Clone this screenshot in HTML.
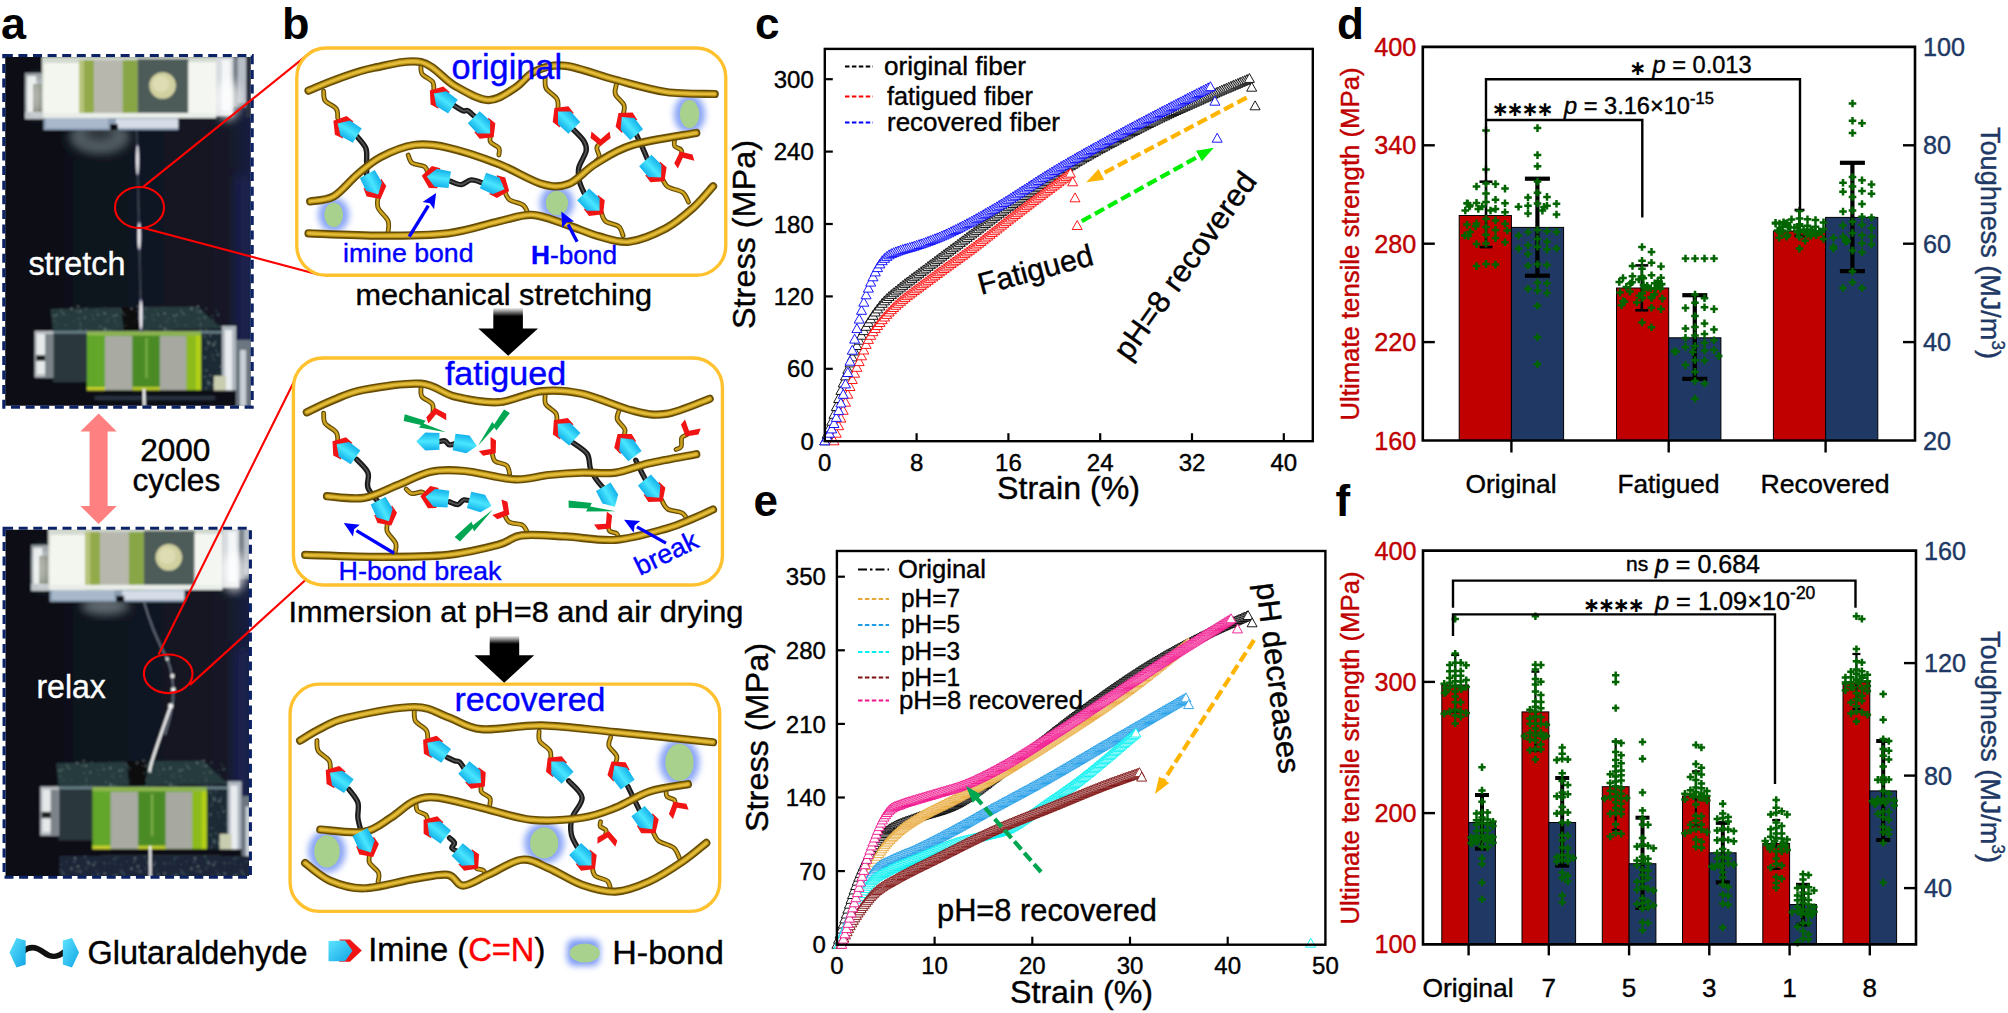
<!DOCTYPE html>
<html lang="en"><head><meta charset="utf-8"><title>Figure</title>
<style>html,body{margin:0;padding:0;background:#fff}svg{display:block}text{font-family:"Liberation Sans",sans-serif}</style>
</head><body>
<svg width="2008" height="1013" viewBox="0 0 2008 1013">
<defs>
<filter id="blur1" x="-5%" y="-5%" width="110%" height="110%"><feGaussianBlur stdDeviation="0.9"/></filter>
<filter id="blur4" x="-30%" y="-30%" width="160%" height="160%"><feGaussianBlur stdDeviation="5"/></filter>
<filter id="blur8" x="-50%" y="-50%" width="200%" height="200%"><feGaussianBlur stdDeviation="14"/></filter>
<filter id="blurb" x="-50%" y="-50%" width="200%" height="200%"><feGaussianBlur stdDeviation="9"/></filter>
<linearGradient id="haze" x1="0" y1="0" x2="1" y2="0"><stop offset="0" stop-color="#0b0f16" stop-opacity="0"/><stop offset="0.45" stop-color="#131922" stop-opacity="0.7"/><stop offset="0.9" stop-color="#151b28" stop-opacity="0.85"/><stop offset="1" stop-color="#1a2248" stop-opacity="0.9"/></linearGradient>
<linearGradient id="fade" x1="0" y1="0" x2="0" y2="1"><stop offset="0" stop-color="#000" stop-opacity="0"/><stop offset="0.4" stop-color="#000" stop-opacity="1"/></linearGradient>
<linearGradient id="cyg" x1="0" y1="0" x2="0" y2="1"><stop offset="0" stop-color="#12b0ea"/><stop offset="0.5" stop-color="#4ae6ff"/><stop offset="1" stop-color="#12b0ea"/></linearGradient>
<filter id="blurl" x="-40%" y="-40%" width="180%" height="180%"><feGaussianBlur stdDeviation="3.2"/></filter>
<linearGradient id="cyg2" x1="0" y1="0" x2="1" y2="1"><stop offset="0" stop-color="#5fe4ff"/><stop offset="1" stop-color="#10a4e4"/></linearGradient>
<pattern id="speck" width="60" height="40" patternUnits="userSpaceOnUse"><circle cx="14.3" cy="21.8" r="0.7" fill="#e8f0ec"/><circle cx="28.4" cy="23.2" r="1.1" fill="#9fc0b8"/><circle cx="54.5" cy="18.8" r="1.1" fill="#7fa098"/><circle cx="11.5" cy="28.7" r="1.1" fill="#e8f0ec"/><circle cx="28.6" cy="25.6" r="0.6" fill="#7fa098"/><circle cx="38.1" cy="34.7" r="1.1" fill="#8fb0a8"/><circle cx="44.5" cy="26.9" r="0.5" fill="#7fa098"/><circle cx="45.5" cy="23.6" r="0.7" fill="#9fc0b8"/><circle cx="49.4" cy="10.8" r="1.1" fill="#5f8078"/><circle cx="55.2" cy="15.5" r="0.9" fill="#8fb0a8"/><circle cx="43.7" cy="23.1" r="0.6" fill="#cfe0d8"/><circle cx="5.8" cy="5.4" r="0.6" fill="#cfe0d8"/><circle cx="57.9" cy="17.4" r="0.7" fill="#8fb0a8"/><circle cx="30.4" cy="15.4" r="0.7" fill="#e8f0ec"/><circle cx="35.1" cy="23.4" r="0.7" fill="#5f8078"/><circle cx="54.9" cy="1.1" r="0.7" fill="#e8f0ec"/><circle cx="40.3" cy="6.5" r="0.7" fill="#e8f0ec"/><circle cx="54.3" cy="22.8" r="0.6" fill="#5f8078"/><circle cx="49.9" cy="22.9" r="0.7" fill="#9fc0b8"/><circle cx="3.8" cy="34.2" r="0.9" fill="#9fc0b8"/><circle cx="20.6" cy="2.7" r="0.6" fill="#9fc0b8"/><circle cx="17.6" cy="30.8" r="0.5" fill="#9fc0b8"/><circle cx="36.3" cy="30.5" r="0.9" fill="#5f8078"/><circle cx="35.2" cy="22.0" r="0.7" fill="#e8f0ec"/><circle cx="14.2" cy="1.4" r="0.5" fill="#9fc0b8"/><circle cx="6.5" cy="21.4" r="0.6" fill="#8fb0a8"/><circle cx="17.5" cy="10.5" r="0.5" fill="#cfe0d8"/><circle cx="18.8" cy="38.3" r="0.9" fill="#8fb0a8"/><circle cx="27.6" cy="20.8" r="1.1" fill="#5f8078"/><circle cx="33.6" cy="24.8" r="1.1" fill="#cfe0d8"/><circle cx="25.9" cy="28.8" r="0.6" fill="#cfe0d8"/><circle cx="26.2" cy="10.3" r="0.7" fill="#e8f0ec"/><circle cx="20.3" cy="31.5" r="1.1" fill="#cfe0d8"/><circle cx="1.2" cy="24.6" r="0.6" fill="#9fc0b8"/><circle cx="38.0" cy="13.3" r="0.7" fill="#5f8078"/><circle cx="55.0" cy="24.4" r="0.7" fill="#5f8078"/><circle cx="29.4" cy="23.6" r="0.5" fill="#cfe0d8"/><circle cx="15.1" cy="18.3" r="1.1" fill="#e8f0ec"/><circle cx="19.2" cy="14.6" r="0.7" fill="#cfe0d8"/><circle cx="50.6" cy="10.6" r="0.9" fill="#9fc0b8"/><circle cx="46.3" cy="1.1" r="1.1" fill="#5f8078"/><circle cx="44.1" cy="12.4" r="0.6" fill="#5f8078"/><circle cx="48.2" cy="9.5" r="0.6" fill="#5f8078"/><circle cx="26.1" cy="27.9" r="0.5" fill="#e8f0ec"/><circle cx="19.3" cy="13.4" r="0.6" fill="#8fb0a8"/><circle cx="48.6" cy="38.4" r="0.5" fill="#cfe0d8"/><circle cx="44.5" cy="8.7" r="1.1" fill="#8fb0a8"/><circle cx="16.2" cy="31.5" r="0.5" fill="#e8f0ec"/><circle cx="57.5" cy="12.6" r="1.1" fill="#7fa098"/><circle cx="51.8" cy="13.6" r="0.5" fill="#e8f0ec"/><circle cx="20.7" cy="5.2" r="0.7" fill="#e8f0ec"/><circle cx="47.6" cy="10.8" r="0.7" fill="#5f8078"/><circle cx="25.0" cy="16.8" r="0.9" fill="#9fc0b8"/><circle cx="55.2" cy="6.2" r="0.5" fill="#8fb0a8"/><circle cx="56.6" cy="35.2" r="1.1" fill="#8fb0a8"/><circle cx="33.5" cy="39.4" r="0.6" fill="#9fc0b8"/><circle cx="44.7" cy="33.5" r="1.1" fill="#cfe0d8"/><circle cx="32.6" cy="35.6" r="0.5" fill="#e8f0ec"/><circle cx="58.3" cy="4.8" r="0.6" fill="#9fc0b8"/><circle cx="2.1" cy="32.1" r="1.1" fill="#7fa098"/><circle cx="53.8" cy="36.0" r="1.1" fill="#9fc0b8"/><circle cx="0.8" cy="29.8" r="0.6" fill="#e8f0ec"/><circle cx="18.0" cy="26.5" r="1.1" fill="#e8f0ec"/><circle cx="24.8" cy="37.6" r="1.1" fill="#9fc0b8"/><circle cx="20.5" cy="10.1" r="1.1" fill="#8fb0a8"/><circle cx="48.7" cy="2.5" r="0.6" fill="#7fa098"/><circle cx="7.3" cy="35.5" r="0.5" fill="#7fa098"/><circle cx="14.4" cy="11.0" r="0.6" fill="#9fc0b8"/><circle cx="29.3" cy="22.8" r="0.9" fill="#9fc0b8"/><circle cx="45.4" cy="9.9" r="1.1" fill="#e8f0ec"/></pattern>
<g id="cy"><polygon points="-38,-25 4,-27 31,0 4,27 -38,25" fill="url(#cyg)"/></g>
<g id="rv"><polygon points="-6,-30 20,-33 46,0 20,33 -6,30 10,0" fill="#f01414"/></g>
<g id="ry"><polygon points="-16,-27 3,-30 27,0 3,30 -16,27 7,0" fill="#f01414"/></g>
<g id="im"><use href="#rv"/><use href="#cy"/></g>

<g id="tclamp">
<rect x="216.0" y="57.0" width="17.0" height="59.0" fill="#d9dde0" />
<rect x="222.0" y="60.0" width="8.0" height="50.0" fill="#f4f6f8" />
<rect x="233.0" y="57.0" width="18.0" height="50.0" fill="#7c848c" />
<rect x="238.0" y="57.0" width="8.0" height="46.0" fill="#b8bec6" />
<rect x="246.0" y="57.0" width="6.0" height="60.0" fill="#2a3040" />
<rect x="25.0" y="73.0" width="19.0" height="46.0" fill="#8d969a" />
<rect x="27.0" y="76.0" width="9.0" height="40.0" fill="#e4e8e8" />
<rect x="33.0" y="84.0" width="9.0" height="28.0" fill="#59604e" />
<rect x="25.0" y="112.0" width="19.0" height="7.0" fill="#b9c0c4" />
<rect x="43.5" y="116.0" width="135.0" height="14.0" fill="#8c9eb4" />
<rect x="46.0" y="118.0" width="62.0" height="10.0" fill="#a9b9cb" />
<rect x="116.0" y="119.0" width="62.0" height="9.0" fill="#d6dde8" />
<rect x="110.0" y="124.0" width="8.0" height="6.0" fill="#0c1018" />
<rect x="42.0" y="57.0" width="174.0" height="61.0" fill="#d3dad0" />
<rect x="44.0" y="63.0" width="35.0" height="55.0" fill="#f3f6ee" />
<rect x="79.0" y="60.0" width="15.2" height="58.0" fill="#93aa4c" />
<rect x="79.0" y="60.0" width="5.0" height="58.0" fill="#b7c47a" />
<rect x="94.2" y="60.0" width="28.4" height="58.0" fill="#b7b7ad" />
<rect x="122.6" y="60.0" width="15.1" height="58.0" fill="#88a644" />
<rect x="137.7" y="59.0" width="50.7" height="57.0" fill="#4d5b59" />
<rect x="188.4" y="62.0" width="27.6" height="55.0" fill="#f4f6f1" />
<circle cx="162.6" cy="85.5" r="13.3" fill="#d0d0a0"/><circle cx="161" cy="84" r="8.5" fill="#dddcb2"/>
<rect x="44.0" y="113.0" width="172.0" height="5.0" fill="#e9eee8" />
</g>
<g id="lclamp">
<polygon points="50.6,309 121,307.5 124,330 53.3,333" fill="#263a3c"/>
<polygon points="142,307 197.3,306.4 222,328.6 140,330" fill="#263a3c"/>
<polygon points="121,307.5 142,307 140,331 124,331" fill="#070a0e"/>
<rect x="50" y="306" width="172" height="27" fill="url(#speck)" opacity="0.4"/>
<rect x="53.0" y="332.0" width="34.0" height="52.0" fill="#2a383c" />
<rect x="53.0" y="382.0" width="40.0" height="9.0" fill="#0a0e12" />
<rect x="201.0" y="330.0" width="21.0" height="60.0" fill="#1b2934" />
<rect x="201" y="330" width="21" height="60" fill="url(#speck)" opacity="0.5"/>
<rect x="53.0" y="331.0" width="170.0" height="2.5" fill="#6a8088" />
<rect x="34.7" y="331.0" width="18.6" height="46.5" fill="#b9bec2" />
<rect x="37.0" y="334.0" width="10.0" height="40.0" fill="#e6e9ea" />
<rect x="36.0" y="355.0" width="11.0" height="6.0" fill="#1e2022" />
<rect x="45.0" y="334.0" width="8.0" height="44.0" fill="#7c848a" />
<rect x="222.0" y="326.0" width="14.0" height="70.0" fill="#aeb6be" />
<rect x="225.0" y="330.0" width="7.0" height="62.0" fill="#e8ecef" />
<rect x="236.0" y="340.0" width="15.0" height="66.0" fill="#6c7680" />
<rect x="240.0" y="350.0" width="6.0" height="56.0" fill="#c8ced4" />
<rect x="214.0" y="376.0" width="12.0" height="16.0" fill="#c9cdb0" />
<rect x="87.0" y="332.0" width="114.0" height="58.5" fill="#5c9a2a" />
<rect x="87.0" y="332.0" width="18.0" height="58.5" fill="#62a62c" />
<rect x="105.0" y="336.0" width="27.4" height="54.0" fill="#a9aba3" />
<rect x="132.4" y="334.0" width="27.6" height="56.0" fill="#4c8b28" />
<rect x="160.0" y="336.0" width="26.6" height="54.0" fill="#a7a9a1" />
<rect x="186.6" y="333.0" width="14.4" height="57.0" fill="#8dbb1e" />
<rect x="196.0" y="335.0" width="5.0" height="55.0" fill="#b2d012" />
<rect x="87.0" y="331.5" width="114.0" height="4.0" fill="#8fb64e" />
<rect x="87.0" y="387.0" width="18.0" height="4.0" fill="#c6d02a" />
<rect x="132.4" y="387.0" width="27.6" height="3.5" fill="#b9c82c" />
<rect x="145.5" y="338.0" width="2.0" height="40.0" fill="#7fb24a" />
<rect x="53.0" y="390.5" width="183.0" height="16.0" fill="#0b1016" />
<rect x="95.0" y="396.0" width="120.0" height="4.0" fill="#27323c" />
</g>
</defs>
<rect width="2008" height="1013" fill="#fff"/>

<clipPath id="cp1"><rect x="5.2" y="56.9" width="245.6" height="348.8"/></clipPath>
<g clip-path="url(#cp1)"><g filter="url(#blur1)">
<rect x="1.8" y="53.5" width="252.4" height="355.6" fill="#0b0f18" />
<rect x="3.8" y="55.5" width="248.4" height="351.6" fill="url(#haze)"/>
<rect x="235.2" y="175.5" width="17" height="201.6" fill="#1a2350" opacity="0.9" filter="url(#blur4)"/>
<ellipse cx="99.5" cy="137" rx="30" ry="17" fill="#5c676d" opacity="0.9" filter="url(#blur4)"/>
<ellipse cx="99.5" cy="133" rx="15" ry="8" fill="#2a3238" opacity="0.9" filter="url(#blur4)"/>
<use href="#tclamp"/><use href="#lclamp"/>
<ellipse cx="228" cy="100" rx="12" ry="20" fill="#fff" opacity="0.75" filter="url(#blur4)"/>
<ellipse cx="36" cy="96" rx="7" ry="20" fill="#fff" opacity="0.6" filter="url(#blur4)"/>
<line x1="136.8" y1="130" x2="141.3" y2="332" stroke="#4a5262" stroke-width="1.2"/>
<ellipse cx="137.5" cy="160" rx="2.6" ry="16.5" fill="#8a7cff" opacity="0.22"/>
<ellipse cx="137.5" cy="160" rx="1.3" ry="14.5" fill="#ffffff"/>
<ellipse cx="139.2" cy="236" rx="2.8" ry="15.5" fill="#8a7cff" opacity="0.22"/>
<ellipse cx="139.2" cy="236" rx="1.4" ry="13.5" fill="#ffffff"/>
<ellipse cx="140.9" cy="315" rx="2.8" ry="17.0" fill="#8a7cff" opacity="0.22"/>
<ellipse cx="140.9" cy="315" rx="1.4" ry="15.0" fill="#ffffff"/>
<line x1="144" y1="389" x2="144.4" y2="406" stroke="#fff" stroke-width="2.4"/>
</g></g>
<rect x="3.8" y="55.5" width="248.4" height="351.6" fill="none" stroke="#0c2266" stroke-width="3.1" stroke-dasharray="9 5.6"/>
<clipPath id="cp2"><rect x="5.5" y="529.7" width="243.5" height="346.2"/></clipPath>
<g clip-path="url(#cp2)"><g filter="url(#blur1)">
<rect x="2.1" y="526.3" width="250.3" height="353.0" fill="#0b0f18" />
<rect x="4.1" y="528.3" width="246.3" height="349" fill="url(#haze)"/>
<rect x="233.4" y="648.3" width="17" height="199.0" fill="#1a2350" opacity="0.9" filter="url(#blur4)"/>
<ellipse cx="105" cy="606" rx="24" ry="9" fill="#6a757b" opacity="0.9" filter="url(#blur4)"/>
<use href="#tclamp" transform="translate(6.2,471.8)"/>
<ellipse cx="234" cy="572" rx="12" ry="20" fill="#fff" opacity="0.75" filter="url(#blur4)"/>
<ellipse cx="42" cy="568" rx="7" ry="20" fill="#fff" opacity="0.6" filter="url(#blur4)"/>
<use href="#lclamp" transform="translate(5.6,455.6) translate(0,332) scale(1,1.055) translate(0,-332)"/>
<rect x="59.5" y="856.0" width="192.0" height="24.0" fill="#1b2537" />
<rect x="59.5" y="856" width="192" height="24" fill="url(#speck)" opacity="0.4"/>
<path d="M144 601.7C149 620 158 642 167 658.6C172 670 174 684 173 700C172 712 169 722 165 735" fill="none" stroke="#7a8496" stroke-width="1.3"/>
<path d="M170.6 706.5C166 720 158 742 153 758C151 764 150 768 149.5 772" fill="none" stroke="#fff" stroke-width="2.4"/>
<circle cx="167.3" cy="659" r="1.4" fill="#fff"/>
<circle cx="172.4" cy="676" r="2.0" fill="#fff"/>
<circle cx="173.3" cy="689.7" r="2.2" fill="#fff"/>
<circle cx="170.7" cy="706" r="2.4" fill="#fff"/>
<line x1="150.2" y1="846" x2="150.4" y2="877" stroke="#fff" stroke-width="2.2"/>
</g></g>
<rect x="4.1" y="528.3" width="246.3" height="349" fill="none" stroke="#0c2266" stroke-width="3.1" stroke-dasharray="9 5.6"/>
<text x="28.4" y="274.6" font-size="33.5" fill="#fff" textLength="97.0" lengthAdjust="spacingAndGlyphs" stroke="#fff" stroke-width="0.4">stretch</text>
<text x="36.4" y="698.0" font-size="33.5" fill="#fff" textLength="69.5" lengthAdjust="spacingAndGlyphs" stroke="#fff" stroke-width="0.4">relax</text>
<polygon points="98.6,413.6 116.8,431.5 107.6,431.5 107.6,506 116.8,506 98.6,524 80.4,506 89.6,506 89.6,431.5 80.4,431.5" fill="#FF8080"/>
<text x="175.3" y="460.7" font-size="31.6" text-anchor="middle" stroke="#000" stroke-width="0.4">2000</text>
<text x="176.3" y="491.0" font-size="31.6" text-anchor="middle" stroke="#000" stroke-width="0.4">cycles</text>
<ellipse cx="139.5" cy="207.5" rx="24.5" ry="20.5" fill="none" stroke="#f00" stroke-width="2.1"/>
<path d="M143.5 186.6L313 50.4M143.5 227.9L318.2 274.4" stroke="#f00" stroke-width="2.1" fill="none"/>
<ellipse cx="168.2" cy="673.8" rx="24.3" ry="19.3" fill="none" stroke="#f00" stroke-width="2.1"/>
<path d="M158.6 654.5L297 375.5M190 684.9L305.5 580" stroke="#f00" stroke-width="2.1" fill="none"/>
<text x="1.0" y="39.0" font-size="45" font-weight="bold">a</text>
<g transform="translate(280,0) scale(0.33568)">
<rect x="50" y="143" width="1278" height="677" rx="88" fill="#fff" stroke="#FFC12E" stroke-width="10"/>
<ellipse cx="160" cy="640" rx="46" ry="52" fill="#7f9cf5" opacity="0.9" filter="url(#blurb)"/>
<ellipse cx="160" cy="640" rx="28" ry="36" fill="#a9d18e"/>
<ellipse cx="825" cy="605" rx="51" ry="52" fill="#7f9cf5" opacity="0.9" filter="url(#blurb)"/>
<ellipse cx="825" cy="605" rx="33" ry="36" fill="#a9d18e"/>
<ellipse cx="1220" cy="340" rx="47" ry="58" fill="#7f9cf5" opacity="0.9" filter="url(#blurb)"/>
<ellipse cx="1220" cy="340" rx="29" ry="42" fill="#a9d18e"/>
<path d="M130.0 272.0C130.8 276.7 128.4 291.5 134.6 300.2C140.9 308.8 161.1 315.2 167.4 323.8C173.6 332.5 171.2 347.3 172.0 352.0" fill="none" stroke="#644c06" stroke-width="14.5" stroke-linecap="round"/>
<path d="M130.0 272.0C130.8 276.7 128.4 291.5 134.6 300.2C140.9 308.8 161.1 315.2 167.4 323.8C173.6 332.5 171.2 347.3 172.0 352.0" fill="none" stroke="#cfa420" stroke-width="7.2" stroke-linecap="round"/>
<path d="M292.0 585.0C292.1 590.8 287.4 607.5 292.3 619.5C297.3 631.6 316.7 645.4 321.7 657.5C326.6 669.5 321.9 686.2 322.0 692.0" fill="none" stroke="#644c06" stroke-width="14.5" stroke-linecap="round"/>
<path d="M292.0 585.0C292.1 590.8 287.4 607.5 292.3 619.5C297.3 631.6 316.7 645.4 321.7 657.5C326.6 669.5 321.9 686.2 322.0 692.0" fill="none" stroke="#cfa420" stroke-width="7.2" stroke-linecap="round"/>
<path d="M420.0 192.0C420.5 196.6 417.5 211.2 423.3 219.9C429.1 228.6 448.9 235.4 454.7 244.1C460.5 252.8 457.5 267.4 458.0 272.0" fill="none" stroke="#644c06" stroke-width="14.5" stroke-linecap="round"/>
<path d="M420.0 192.0C420.5 196.6 417.5 211.2 423.3 219.9C429.1 228.6 448.9 235.4 454.7 244.1C460.5 252.8 457.5 267.4 458.0 272.0" fill="none" stroke="#cfa420" stroke-width="7.2" stroke-linecap="round"/>
<path d="M627.0 402.0C627.0 405.5 623.0 416.6 627.1 423.1C631.3 429.6 647.7 434.4 651.9 440.9C656.0 447.4 652.0 458.5 652.0 462.0" fill="none" stroke="#644c06" stroke-width="14.5" stroke-linecap="round"/>
<path d="M627.0 402.0C627.0 405.5 623.0 416.6 627.1 423.1C631.3 429.6 647.7 434.4 651.9 440.9C656.0 447.4 652.0 458.5 652.0 462.0" fill="none" stroke="#cfa420" stroke-width="7.2" stroke-linecap="round"/>
<path d="M382.0 462.0C384.0 466.0 385.7 480.2 393.7 485.9C401.8 491.6 422.2 490.4 430.3 496.1C438.3 501.8 440.0 516.0 442.0 520.0" fill="none" stroke="#644c06" stroke-width="14.5" stroke-linecap="round"/>
<path d="M382.0 462.0C384.0 466.0 385.7 480.2 393.7 485.9C401.8 491.6 422.2 490.4 430.3 496.1C438.3 501.8 440.0 516.0 442.0 520.0" fill="none" stroke="#cfa420" stroke-width="7.2" stroke-linecap="round"/>
<path d="M668.0 566.0C670.5 570.7 673.7 586.9 683.1 594.5C692.6 602.1 715.4 603.9 724.9 611.5C734.3 619.1 737.5 635.3 740.0 640.0" fill="none" stroke="#644c06" stroke-width="14.5" stroke-linecap="round"/>
<path d="M668.0 566.0C670.5 570.7 673.7 586.9 683.1 594.5C692.6 602.1 715.4 603.9 724.9 611.5C734.3 619.1 737.5 635.3 740.0 640.0" fill="none" stroke="#cfa420" stroke-width="7.2" stroke-linecap="round"/>
<path d="M790.0 232.0C790.5 237.3 787.2 253.2 793.1 263.6C798.9 274.0 819.1 284.0 824.9 294.4C830.8 304.8 827.5 320.7 828.0 326.0" fill="none" stroke="#644c06" stroke-width="14.5" stroke-linecap="round"/>
<path d="M790.0 232.0C790.5 237.3 787.2 253.2 793.1 263.6C798.9 274.0 819.1 284.0 824.9 294.4C830.8 304.8 827.5 320.7 828.0 326.0" fill="none" stroke="#cfa420" stroke-width="7.2" stroke-linecap="round"/>
<path d="M957.0 632.0C959.2 636.5 961.2 652.0 969.9 659.1C978.6 666.3 1000.4 667.7 1009.1 674.9C1017.8 682.0 1019.8 697.5 1022.0 702.0" fill="none" stroke="#644c06" stroke-width="14.5" stroke-linecap="round"/>
<path d="M957.0 632.0C959.2 636.5 961.2 652.0 969.9 659.1C978.6 666.3 1000.4 667.7 1009.1 674.9C1017.8 682.0 1019.8 697.5 1022.0 702.0" fill="none" stroke="#cfa420" stroke-width="7.2" stroke-linecap="round"/>
<path d="M1002.0 252.0C1001.5 256.8 995.4 270.8 999.2 281.0C1003.0 291.1 1021.0 302.9 1024.8 313.0C1028.6 323.2 1022.5 337.2 1022.0 342.0" fill="none" stroke="#644c06" stroke-width="14.5" stroke-linecap="round"/>
<path d="M1002.0 252.0C1001.5 256.8 995.4 270.8 999.2 281.0C1003.0 291.1 1021.0 302.9 1024.8 313.0C1028.6 323.2 1022.5 337.2 1022.0 342.0" fill="none" stroke="#cfa420" stroke-width="7.2" stroke-linecap="round"/>
<path d="M1137.0 527.0C1140.0 531.8 1144.5 548.4 1154.8 556.1C1165.2 563.7 1188.8 565.3 1199.2 572.9C1209.5 580.6 1214.0 597.2 1217.0 602.0" fill="none" stroke="#644c06" stroke-width="14.5" stroke-linecap="round"/>
<path d="M1137.0 527.0C1140.0 531.8 1144.5 548.4 1154.8 556.1C1165.2 563.7 1188.8 565.3 1199.2 572.9C1209.5 580.6 1214.0 597.2 1217.0 602.0" fill="none" stroke="#cfa420" stroke-width="7.2" stroke-linecap="round"/>
<path d="M940.0 482.0C941.9 479.4 950.6 473.6 951.3 466.7C951.9 459.7 943.1 447.3 943.7 440.3C944.4 433.4 953.1 427.6 955.0 425.0" fill="none" stroke="#644c06" stroke-width="14.5" stroke-linecap="round"/>
<path d="M940.0 482.0C941.9 479.4 950.6 473.6 951.3 466.7C951.9 459.7 943.1 447.3 943.7 440.3C944.4 433.4 953.1 427.6 955.0 425.0" fill="none" stroke="#cfa420" stroke-width="7.2" stroke-linecap="round"/>
<path d="M1175.0 420.0C1175.2 422.5 1172.6 430.8 1175.9 435.3C1179.3 439.7 1191.7 442.3 1195.1 446.7C1198.4 451.2 1195.8 459.5 1196.0 462.0" fill="none" stroke="#644c06" stroke-width="14.5" stroke-linecap="round"/>
<path d="M1175.0 420.0C1175.2 422.5 1172.6 430.8 1175.9 435.3C1179.3 439.7 1191.7 442.3 1195.1 446.7C1198.4 451.2 1195.8 459.5 1196.0 462.0" fill="none" stroke="#cfa420" stroke-width="7.2" stroke-linecap="round"/>
<path d="M222.0 398.0C227.5 405.0 249.0 426.3 255.0 440.0C261.0 453.7 257.5 466.3 258.0 480.0C258.5 493.7 258.0 515.0 258.0 522.0" fill="none" stroke="#1a1a1a" stroke-width="16" stroke-linecap="round"/>
<path d="M222.0 398.0C227.5 405.0 249.0 426.3 255.0 440.0C261.0 453.7 257.5 466.3 258.0 480.0C258.5 493.7 258.0 515.0 258.0 522.0" fill="none" stroke="#555" stroke-width="4.8" stroke-linecap="round"/>
<path d="M518.0 314.0C522.5 316.7 538.0 327.3 545.0 330.0C552.0 332.7 553.3 326.3 560.0 330.0C566.7 333.7 580.8 348.3 585.0 352.0" fill="none" stroke="#1a1a1a" stroke-width="16" stroke-linecap="round"/>
<path d="M518.0 314.0C522.5 316.7 538.0 327.3 545.0 330.0C552.0 332.7 553.3 326.3 560.0 330.0C566.7 333.7 580.8 348.3 585.0 352.0" fill="none" stroke="#555" stroke-width="4.8" stroke-linecap="round"/>
<path d="M508.0 540.0C513.3 541.7 529.7 550.7 540.0 550.0C550.3 549.3 559.0 536.7 570.0 536.0C581.0 535.3 600.0 544.3 606.0 546.0" fill="none" stroke="#1a1a1a" stroke-width="16" stroke-linecap="round"/>
<path d="M508.0 540.0C513.3 541.7 529.7 550.7 540.0 550.0C550.3 549.3 559.0 536.7 570.0 536.0C581.0 535.3 600.0 544.3 606.0 546.0" fill="none" stroke="#555" stroke-width="4.8" stroke-linecap="round"/>
<path d="M872.0 384.0C877.5 390.0 898.3 409.0 905.0 420.0C911.7 431.0 914.5 436.7 912.0 450.0C909.5 463.3 893.3 485.0 890.0 500.0C886.7 515.0 889.3 527.5 892.0 540.0C894.7 552.5 903.7 569.2 906.0 575.0" fill="none" stroke="#1a1a1a" stroke-width="16" stroke-linecap="round"/>
<path d="M872.0 384.0C877.5 390.0 898.3 409.0 905.0 420.0C911.7 431.0 914.5 436.7 912.0 450.0C909.5 463.3 893.3 485.0 890.0 500.0C886.7 515.0 889.3 527.5 892.0 540.0C894.7 552.5 903.7 569.2 906.0 575.0" fill="none" stroke="#555" stroke-width="4.8" stroke-linecap="round"/>
<path d="M1062.0 402.0C1065.0 408.3 1074.3 427.3 1080.0 440.0C1085.7 452.7 1093.3 471.7 1096.0 478.0" fill="none" stroke="#1a1a1a" stroke-width="16" stroke-linecap="round"/>
<path d="M1062.0 402.0C1065.0 408.3 1074.3 427.3 1080.0 440.0C1085.7 452.7 1093.3 471.7 1096.0 478.0" fill="none" stroke="#555" stroke-width="4.8" stroke-linecap="round"/>
<path d="M85.0 270.0C100.8 263.7 147.5 243.3 180.0 232.0C212.5 220.7 240.0 209.8 280.0 202.0C320.0 194.2 380.0 176.2 420.0 185.0C460.0 193.8 486.7 236.2 520.0 255.0C553.3 273.8 590.0 296.8 620.0 298.0C650.0 299.2 676.7 276.3 700.0 262.0C723.3 247.7 735.0 223.0 760.0 212.0C785.0 201.0 810.0 191.7 850.0 196.0C890.0 200.3 950.0 225.0 1000.0 238.0C1050.0 251.0 1100.8 267.0 1150.0 274.0C1199.2 281.0 1270.8 279.0 1295.0 280.0" fill="none" stroke="#644c06" stroke-width="24.5" stroke-linecap="round"/>
<path d="M85.0 270.0C100.8 263.7 147.5 243.3 180.0 232.0C212.5 220.7 240.0 209.8 280.0 202.0C320.0 194.2 380.0 176.2 420.0 185.0C460.0 193.8 486.7 236.2 520.0 255.0C553.3 273.8 590.0 296.8 620.0 298.0C650.0 299.2 676.7 276.3 700.0 262.0C723.3 247.7 735.0 223.0 760.0 212.0C785.0 201.0 810.0 191.7 850.0 196.0C890.0 200.3 950.0 225.0 1000.0 238.0C1050.0 251.0 1100.8 267.0 1150.0 274.0C1199.2 281.0 1270.8 279.0 1295.0 280.0" fill="none" stroke="#c09616" stroke-width="14.7" stroke-linecap="round"/>
<path d="M85.0 270.0C100.8 263.7 147.5 243.3 180.0 232.0C212.5 220.7 240.0 209.8 280.0 202.0C320.0 194.2 380.0 176.2 420.0 185.0C460.0 193.8 486.7 236.2 520.0 255.0C553.3 273.8 590.0 296.8 620.0 298.0C650.0 299.2 676.7 276.3 700.0 262.0C723.3 247.7 735.0 223.0 760.0 212.0C785.0 201.0 810.0 191.7 850.0 196.0C890.0 200.3 950.0 225.0 1000.0 238.0C1050.0 251.0 1100.8 267.0 1150.0 274.0C1199.2 281.0 1270.8 279.0 1295.0 280.0" fill="none" stroke="#e2bc3a" stroke-width="7.3" stroke-linecap="round"/>
<path d="M90.0 600.0C101.7 597.5 136.7 598.3 160.0 585.0C183.3 571.7 206.7 539.5 230.0 520.0C253.3 500.5 271.7 482.7 300.0 468.0C328.3 453.3 366.7 436.7 400.0 432.0C433.3 427.3 458.3 430.7 500.0 440.0C541.7 449.3 603.3 470.0 650.0 488.0C696.7 506.0 745.0 538.0 780.0 548.0C815.0 558.0 833.3 558.0 860.0 548.0C886.7 538.0 908.3 507.3 940.0 488.0C971.7 468.7 1000.0 447.3 1050.0 432.0C1100.0 416.7 1208.3 402.0 1240.0 396.0" fill="none" stroke="#644c06" stroke-width="24.5" stroke-linecap="round"/>
<path d="M90.0 600.0C101.7 597.5 136.7 598.3 160.0 585.0C183.3 571.7 206.7 539.5 230.0 520.0C253.3 500.5 271.7 482.7 300.0 468.0C328.3 453.3 366.7 436.7 400.0 432.0C433.3 427.3 458.3 430.7 500.0 440.0C541.7 449.3 603.3 470.0 650.0 488.0C696.7 506.0 745.0 538.0 780.0 548.0C815.0 558.0 833.3 558.0 860.0 548.0C886.7 538.0 908.3 507.3 940.0 488.0C971.7 468.7 1000.0 447.3 1050.0 432.0C1100.0 416.7 1208.3 402.0 1240.0 396.0" fill="none" stroke="#c09616" stroke-width="14.7" stroke-linecap="round"/>
<path d="M90.0 600.0C101.7 597.5 136.7 598.3 160.0 585.0C183.3 571.7 206.7 539.5 230.0 520.0C253.3 500.5 271.7 482.7 300.0 468.0C328.3 453.3 366.7 436.7 400.0 432.0C433.3 427.3 458.3 430.7 500.0 440.0C541.7 449.3 603.3 470.0 650.0 488.0C696.7 506.0 745.0 538.0 780.0 548.0C815.0 558.0 833.3 558.0 860.0 548.0C886.7 538.0 908.3 507.3 940.0 488.0C971.7 468.7 1000.0 447.3 1050.0 432.0C1100.0 416.7 1208.3 402.0 1240.0 396.0" fill="none" stroke="#e2bc3a" stroke-width="7.3" stroke-linecap="round"/>
<path d="M85.0 695.0C120.8 696.2 230.8 702.0 300.0 702.0C369.2 702.0 441.7 702.0 500.0 695.0C558.3 688.0 608.3 669.2 650.0 660.0C691.7 650.8 716.7 638.7 750.0 640.0C783.3 641.3 816.7 657.3 850.0 668.0C883.3 678.7 918.3 695.3 950.0 704.0C981.7 712.7 1006.7 724.0 1040.0 720.0C1073.3 716.0 1118.3 696.7 1150.0 680.0C1181.7 663.3 1206.7 640.8 1230.0 620.0C1253.3 599.2 1280.0 565.8 1290.0 555.0" fill="none" stroke="#644c06" stroke-width="24.5" stroke-linecap="round"/>
<path d="M85.0 695.0C120.8 696.2 230.8 702.0 300.0 702.0C369.2 702.0 441.7 702.0 500.0 695.0C558.3 688.0 608.3 669.2 650.0 660.0C691.7 650.8 716.7 638.7 750.0 640.0C783.3 641.3 816.7 657.3 850.0 668.0C883.3 678.7 918.3 695.3 950.0 704.0C981.7 712.7 1006.7 724.0 1040.0 720.0C1073.3 716.0 1118.3 696.7 1150.0 680.0C1181.7 663.3 1206.7 640.8 1230.0 620.0C1253.3 599.2 1280.0 565.8 1290.0 555.0" fill="none" stroke="#c09616" stroke-width="14.7" stroke-linecap="round"/>
<path d="M85.0 695.0C120.8 696.2 230.8 702.0 300.0 702.0C369.2 702.0 441.7 702.0 500.0 695.0C558.3 688.0 608.3 669.2 650.0 660.0C691.7 650.8 716.7 638.7 750.0 640.0C783.3 641.3 816.7 657.3 850.0 668.0C883.3 678.7 918.3 695.3 950.0 704.0C981.7 712.7 1006.7 724.0 1040.0 720.0C1073.3 716.0 1118.3 696.7 1150.0 680.0C1181.7 663.3 1206.7 640.8 1230.0 620.0C1253.3 599.2 1280.0 565.8 1290.0 555.0" fill="none" stroke="#e2bc3a" stroke-width="7.3" stroke-linecap="round"/>
<use href="#im" transform="translate(198,384) rotate(-148)"/>
<use href="#im" transform="translate(278,552) rotate(62)"/>
<use href="#im" transform="translate(484,296) rotate(-145)"/>
<use href="#im" transform="translate(604,376) rotate(45)"/>
<use href="#im" transform="translate(468,530) rotate(188)"/>
<use href="#im" transform="translate(640,552) rotate(22)"/>
<use href="#im" transform="translate(850,354) rotate(-135)"/>
<use href="#im" transform="translate(930,606) rotate(45)"/>
<use href="#im" transform="translate(1038,372) rotate(-130)"/>
<use href="#im" transform="translate(1114,506) rotate(47)"/>
<use href="#ry" transform="translate(955,408) rotate(90)"/>
<use href="#ry" transform="translate(1203,476) rotate(-115)"/>
<line x1="385" y1="705" x2="441.9" y2="612.5" stroke="#00f" stroke-width="10"/>
<polygon points="465,575 459.0,623.0 446.1,605.7 424.9,602.0" fill="#00f"/>
<line x1="885" y1="720" x2="858.4" y2="669.0" stroke="#00f" stroke-width="10"/>
<polygon points="838,630 876.1,659.7 854.7,661.9 840.6,678.3" fill="#00f"/>
</g>
<text x="451.5" y="78.5" font-size="34.2" fill="#00f" textLength="110.5" lengthAdjust="spacingAndGlyphs" stroke="#00f" stroke-width="0.4">original</text>
<text x="343.0" y="262.0" font-size="26.6" fill="#00f" textLength="130.5" lengthAdjust="spacingAndGlyphs" stroke="#00f" stroke-width="0.4">imine bond</text>
<text x="531.0" y="263.5" font-size="26.6" fill="#00f" textLength="86.0" lengthAdjust="spacingAndGlyphs" stroke="#00f" stroke-width="0.4"><tspan font-weight="bold">H</tspan>-bond</text>
<text x="355.5" y="305.3" font-size="29.8" textLength="296.5" lengthAdjust="spacingAndGlyphs" stroke="#000" stroke-width="0.4">mechanical stretching</text>
<g transform="translate(280,330) scale(0.33568)">
<rect x="40" y="83.5" width="1278" height="676" rx="88" fill="#fff" stroke="#FFC12E" stroke-width="10"/>
<path d="M130.0 248.0C130.7 253.0 128.2 268.5 134.5 278.0C140.7 287.5 161.3 295.5 167.5 305.0C173.8 314.5 171.3 330.0 172.0 335.0" fill="none" stroke="#644c06" stroke-width="14.5" stroke-linecap="round"/>
<path d="M130.0 248.0C130.7 253.0 128.2 268.5 134.5 278.0C140.7 287.5 161.3 295.5 167.5 305.0C173.8 314.5 171.3 330.0 172.0 335.0" fill="none" stroke="#cfa420" stroke-width="7.2" stroke-linecap="round"/>
<path d="M322.0 568.0C321.5 573.3 315.4 588.4 319.2 599.8C323.0 611.1 341.0 624.9 344.8 636.2C348.6 647.6 342.5 662.7 342.0 668.0" fill="none" stroke="#644c06" stroke-width="14.5" stroke-linecap="round"/>
<path d="M322.0 568.0C321.5 573.3 315.4 588.4 319.2 599.8C323.0 611.1 341.0 624.9 344.8 636.2C348.6 647.6 342.5 662.7 342.0 668.0" fill="none" stroke="#cfa420" stroke-width="7.2" stroke-linecap="round"/>
<path d="M420.0 172.0C420.5 176.4 417.2 190.2 422.7 198.1C428.3 206.1 447.7 211.9 453.3 219.9C458.8 227.8 455.5 241.6 456.0 246.0" fill="none" stroke="#644c06" stroke-width="14.5" stroke-linecap="round"/>
<path d="M420.0 172.0C420.5 176.4 417.2 190.2 422.7 198.1C428.3 206.1 447.7 211.9 453.3 219.9C458.8 227.8 455.5 241.6 456.0 246.0" fill="none" stroke="#cfa420" stroke-width="7.2" stroke-linecap="round"/>
<path d="M632.0 366.0C633.5 370.1 633.5 384.1 640.7 390.4C647.9 396.7 668.1 397.3 675.3 403.6C682.5 409.9 682.5 423.9 684.0 428.0" fill="none" stroke="#644c06" stroke-width="14.5" stroke-linecap="round"/>
<path d="M632.0 366.0C633.5 370.1 633.5 384.1 640.7 390.4C647.9 396.7 668.1 397.3 675.3 403.6C682.5 409.9 682.5 423.9 684.0 428.0" fill="none" stroke="#cfa420" stroke-width="7.2" stroke-linecap="round"/>
<path d="M376.0 474.0C378.8 476.2 385.1 485.8 392.9 487.2C400.8 488.7 415.2 481.3 423.1 482.8C430.9 484.2 437.2 493.8 440.0 496.0" fill="none" stroke="#644c06" stroke-width="14.5" stroke-linecap="round"/>
<path d="M376.0 474.0C378.8 476.2 385.1 485.8 392.9 487.2C400.8 488.7 415.2 481.3 423.1 482.8C430.9 484.2 437.2 493.8 440.0 496.0" fill="none" stroke="#cfa420" stroke-width="7.2" stroke-linecap="round"/>
<path d="M668.0 548.0C670.5 552.1 674.1 566.7 683.3 572.3C692.4 577.9 713.6 576.1 722.7 581.7C731.9 587.3 735.5 601.9 738.0 606.0" fill="none" stroke="#644c06" stroke-width="14.5" stroke-linecap="round"/>
<path d="M668.0 548.0C670.5 552.1 674.1 566.7 683.3 572.3C692.4 577.9 713.6 576.1 722.7 581.7C731.9 587.3 735.5 601.9 738.0 606.0" fill="none" stroke="#cfa420" stroke-width="7.2" stroke-linecap="round"/>
<path d="M790.0 192.0C790.3 196.9 786.5 211.6 791.8 221.1C797.2 230.6 816.8 239.4 822.2 248.9C827.5 258.4 823.7 273.1 824.0 278.0" fill="none" stroke="#644c06" stroke-width="14.5" stroke-linecap="round"/>
<path d="M790.0 192.0C790.3 196.9 786.5 211.6 791.8 221.1C797.2 230.6 816.8 239.4 822.2 248.9C827.5 258.4 823.7 273.1 824.0 278.0" fill="none" stroke="#cfa420" stroke-width="7.2" stroke-linecap="round"/>
<path d="M978.0 584.0C978.7 586.5 978.0 595.3 982.3 599.1C986.6 602.9 999.4 603.1 1003.7 606.9C1008.0 610.7 1007.3 619.5 1008.0 622.0" fill="none" stroke="#644c06" stroke-width="14.5" stroke-linecap="round"/>
<path d="M978.0 584.0C978.7 586.5 978.0 595.3 982.3 599.1C986.6 602.9 999.4 603.1 1003.7 606.9C1008.0 610.7 1007.3 619.5 1008.0 622.0" fill="none" stroke="#cfa420" stroke-width="7.2" stroke-linecap="round"/>
<path d="M1010.0 240.0C1009.1 244.3 1001.8 256.6 1004.7 265.9C1007.6 275.3 1024.4 286.7 1027.3 296.1C1030.2 305.4 1022.9 317.7 1022.0 322.0" fill="none" stroke="#644c06" stroke-width="14.5" stroke-linecap="round"/>
<path d="M1010.0 240.0C1009.1 244.3 1001.8 256.6 1004.7 265.9C1007.6 275.3 1024.4 286.7 1027.3 296.1C1030.2 305.4 1022.9 317.7 1022.0 322.0" fill="none" stroke="#cfa420" stroke-width="7.2" stroke-linecap="round"/>
<path d="M1137.0 507.0C1140.1 511.4 1145.0 527.1 1155.3 533.5C1165.6 539.9 1188.4 539.1 1198.7 545.5C1209.0 551.9 1213.9 567.6 1217.0 572.0" fill="none" stroke="#644c06" stroke-width="14.5" stroke-linecap="round"/>
<path d="M1137.0 507.0C1140.1 511.4 1145.0 527.1 1155.3 533.5C1165.6 539.9 1188.4 539.1 1198.7 545.5C1209.0 551.9 1213.9 567.6 1217.0 572.0" fill="none" stroke="#cfa420" stroke-width="7.2" stroke-linecap="round"/>
<path d="M1180.0 356.0C1182.5 354.5 1192.5 352.7 1195.3 346.9C1198.1 341.1 1193.9 326.9 1196.7 321.1C1199.5 315.3 1209.5 313.5 1212.0 312.0" fill="none" stroke="#644c06" stroke-width="14.5" stroke-linecap="round"/>
<path d="M1180.0 356.0C1182.5 354.5 1192.5 352.7 1195.3 346.9C1198.1 341.1 1193.9 326.9 1196.7 321.1C1199.5 315.3 1209.5 313.5 1212.0 312.0" fill="none" stroke="#cfa420" stroke-width="7.2" stroke-linecap="round"/>
<path d="M228.0 385.0C233.7 391.7 256.3 410.8 262.0 425.0C267.7 439.2 256.5 455.0 262.0 470.0C267.5 485.0 289.5 507.5 295.0 515.0" fill="none" stroke="#1a1a1a" stroke-width="16" stroke-linecap="round"/>
<path d="M228.0 385.0C233.7 391.7 256.3 410.8 262.0 425.0C267.7 439.2 256.5 455.0 262.0 470.0C267.5 485.0 289.5 507.5 295.0 515.0" fill="none" stroke="#555" stroke-width="4.8" stroke-linecap="round"/>
<path d="M462.0 336.0C466.7 335.0 482.8 329.0 490.0 330.0C497.2 331.0 498.0 341.0 505.0 342.0C512.0 343.0 527.5 337.0 532.0 336.0" fill="none" stroke="#1a1a1a" stroke-width="16" stroke-linecap="round"/>
<path d="M462.0 336.0C466.7 335.0 482.8 329.0 490.0 330.0C497.2 331.0 498.0 341.0 505.0 342.0C512.0 343.0 527.5 337.0 532.0 336.0" fill="none" stroke="#555" stroke-width="4.8" stroke-linecap="round"/>
<path d="M505.0 512.0C509.2 513.3 522.8 521.0 530.0 520.0C537.2 519.0 540.0 507.3 548.0 506.0C556.0 504.7 573.0 511.0 578.0 512.0" fill="none" stroke="#1a1a1a" stroke-width="16" stroke-linecap="round"/>
<path d="M505.0 512.0C509.2 513.3 522.8 521.0 530.0 520.0C537.2 519.0 540.0 507.3 548.0 506.0C556.0 504.7 573.0 511.0 578.0 512.0" fill="none" stroke="#555" stroke-width="4.8" stroke-linecap="round"/>
<path d="M870.0 334.0C877.5 339.8 905.8 355.7 915.0 369.0C924.2 382.3 920.0 400.7 925.0 414.0C930.0 427.3 937.2 438.0 945.0 449.0C952.8 460.0 967.5 474.8 972.0 480.0" fill="none" stroke="#1a1a1a" stroke-width="16" stroke-linecap="round"/>
<path d="M870.0 334.0C877.5 339.8 905.8 355.7 915.0 369.0C924.2 382.3 920.0 400.7 925.0 414.0C930.0 427.3 937.2 438.0 945.0 449.0C952.8 460.0 967.5 474.8 972.0 480.0" fill="none" stroke="#555" stroke-width="4.8" stroke-linecap="round"/>
<path d="M1060.0 388.0C1063.0 394.2 1072.3 413.8 1078.0 425.0C1083.7 436.2 1091.3 450.0 1094.0 455.0" fill="none" stroke="#1a1a1a" stroke-width="16" stroke-linecap="round"/>
<path d="M1060.0 388.0C1063.0 394.2 1072.3 413.8 1078.0 425.0C1083.7 436.2 1091.3 450.0 1094.0 455.0" fill="none" stroke="#555" stroke-width="4.8" stroke-linecap="round"/>
<path d="M80.0 245.0C93.3 238.8 131.7 219.2 160.0 208.0C188.3 196.8 206.7 186.0 250.0 178.0C293.3 170.0 375.0 156.7 420.0 160.0C465.0 163.3 481.7 188.8 520.0 198.0C558.3 207.2 606.7 217.7 650.0 215.0C693.3 212.3 738.3 186.2 780.0 182.0C821.7 177.8 855.0 180.3 900.0 190.0C945.0 199.7 1008.3 230.0 1050.0 240.0C1091.7 250.0 1111.7 255.8 1150.0 250.0C1188.3 244.2 1258.3 212.5 1280.0 205.0" fill="none" stroke="#644c06" stroke-width="24.5" stroke-linecap="round"/>
<path d="M80.0 245.0C93.3 238.8 131.7 219.2 160.0 208.0C188.3 196.8 206.7 186.0 250.0 178.0C293.3 170.0 375.0 156.7 420.0 160.0C465.0 163.3 481.7 188.8 520.0 198.0C558.3 207.2 606.7 217.7 650.0 215.0C693.3 212.3 738.3 186.2 780.0 182.0C821.7 177.8 855.0 180.3 900.0 190.0C945.0 199.7 1008.3 230.0 1050.0 240.0C1091.7 250.0 1111.7 255.8 1150.0 250.0C1188.3 244.2 1258.3 212.5 1280.0 205.0" fill="none" stroke="#c09616" stroke-width="14.7" stroke-linecap="round"/>
<path d="M80.0 245.0C93.3 238.8 131.7 219.2 160.0 208.0C188.3 196.8 206.7 186.0 250.0 178.0C293.3 170.0 375.0 156.7 420.0 160.0C465.0 163.3 481.7 188.8 520.0 198.0C558.3 207.2 606.7 217.7 650.0 215.0C693.3 212.3 738.3 186.2 780.0 182.0C821.7 177.8 855.0 180.3 900.0 190.0C945.0 199.7 1008.3 230.0 1050.0 240.0C1091.7 250.0 1111.7 255.8 1150.0 250.0C1188.3 244.2 1258.3 212.5 1280.0 205.0" fill="none" stroke="#e2bc3a" stroke-width="7.3" stroke-linecap="round"/>
<path d="M140.0 495.0C158.3 495.8 215.0 505.5 250.0 500.0C285.0 494.5 316.7 475.0 350.0 462.0C383.3 449.0 416.7 429.0 450.0 422.0C483.3 415.0 508.3 416.2 550.0 420.0C591.7 423.8 658.3 443.0 700.0 445.0C741.7 447.0 766.7 435.3 800.0 432.0C833.3 428.7 866.7 426.2 900.0 425.0C933.3 423.8 966.7 429.7 1000.0 425.0C1033.3 420.3 1060.0 406.2 1100.0 397.0C1140.0 387.8 1216.7 374.5 1240.0 370.0" fill="none" stroke="#644c06" stroke-width="24.5" stroke-linecap="round"/>
<path d="M140.0 495.0C158.3 495.8 215.0 505.5 250.0 500.0C285.0 494.5 316.7 475.0 350.0 462.0C383.3 449.0 416.7 429.0 450.0 422.0C483.3 415.0 508.3 416.2 550.0 420.0C591.7 423.8 658.3 443.0 700.0 445.0C741.7 447.0 766.7 435.3 800.0 432.0C833.3 428.7 866.7 426.2 900.0 425.0C933.3 423.8 966.7 429.7 1000.0 425.0C1033.3 420.3 1060.0 406.2 1100.0 397.0C1140.0 387.8 1216.7 374.5 1240.0 370.0" fill="none" stroke="#c09616" stroke-width="14.7" stroke-linecap="round"/>
<path d="M140.0 495.0C158.3 495.8 215.0 505.5 250.0 500.0C285.0 494.5 316.7 475.0 350.0 462.0C383.3 449.0 416.7 429.0 450.0 422.0C483.3 415.0 508.3 416.2 550.0 420.0C591.7 423.8 658.3 443.0 700.0 445.0C741.7 447.0 766.7 435.3 800.0 432.0C833.3 428.7 866.7 426.2 900.0 425.0C933.3 423.8 966.7 429.7 1000.0 425.0C1033.3 420.3 1060.0 406.2 1100.0 397.0C1140.0 387.8 1216.7 374.5 1240.0 370.0" fill="none" stroke="#e2bc3a" stroke-width="7.3" stroke-linecap="round"/>
<path d="M75.0 670.0C112.5 671.0 229.2 676.0 300.0 676.0C370.8 676.0 441.7 676.0 500.0 670.0C558.3 664.0 613.3 649.7 650.0 640.0C686.7 630.3 686.7 616.2 720.0 612.0C753.3 607.8 803.3 612.8 850.0 615.0C896.7 617.2 950.0 628.8 1000.0 625.0C1050.0 621.2 1111.7 602.5 1150.0 592.0C1188.3 581.5 1206.7 571.5 1230.0 562.0C1253.3 552.5 1280.0 539.5 1290.0 535.0" fill="none" stroke="#644c06" stroke-width="24.5" stroke-linecap="round"/>
<path d="M75.0 670.0C112.5 671.0 229.2 676.0 300.0 676.0C370.8 676.0 441.7 676.0 500.0 670.0C558.3 664.0 613.3 649.7 650.0 640.0C686.7 630.3 686.7 616.2 720.0 612.0C753.3 607.8 803.3 612.8 850.0 615.0C896.7 617.2 950.0 628.8 1000.0 625.0C1050.0 621.2 1111.7 602.5 1150.0 592.0C1188.3 581.5 1206.7 571.5 1230.0 562.0C1253.3 552.5 1280.0 539.5 1290.0 535.0" fill="none" stroke="#c09616" stroke-width="14.7" stroke-linecap="round"/>
<path d="M75.0 670.0C112.5 671.0 229.2 676.0 300.0 676.0C370.8 676.0 441.7 676.0 500.0 670.0C558.3 664.0 613.3 649.7 650.0 640.0C686.7 630.3 686.7 616.2 720.0 612.0C753.3 607.8 803.3 612.8 850.0 615.0C896.7 617.2 950.0 628.8 1000.0 625.0C1050.0 621.2 1111.7 602.5 1150.0 592.0C1188.3 581.5 1206.7 571.5 1230.0 562.0C1253.3 552.5 1280.0 539.5 1290.0 535.0" fill="none" stroke="#e2bc3a" stroke-width="7.3" stroke-linecap="round"/>
<use href="#im" transform="translate(194,358) rotate(-145)"/>
<use href="#im" transform="translate(310,542) rotate(62)"/>
<use href="#ry" transform="translate(466,258) rotate(-100)"/>
<use href="#cy" transform="translate(437,332) rotate(180)"/>
<use href="#cy" transform="translate(556,340) rotate(10)"/>
<use href="#ry" transform="translate(622,350) rotate(40)"/>
<use href="#im" transform="translate(464,500) rotate(186)"/>
<use href="#cy" transform="translate(600,516) rotate(15)"/>
<use href="#ry" transform="translate(660,536) rotate(30)"/>
<use href="#im" transform="translate(850,300) rotate(-138)"/>
<use href="#cy" transform="translate(982,500) rotate(60)"/>
<use href="#ry" transform="translate(966,572) rotate(45)"/>
<use href="#im" transform="translate(1034,346) rotate(-128)"/>
<use href="#im" transform="translate(1110,476) rotate(50)"/>
<use href="#ry" transform="translate(1222,294) rotate(120)"/>
<polygon transform="translate(368,262) rotate(18.7) scale(1.031)" points="0,-11 3,8 54,3 51,12 130,0 60,-3 63,-13" fill="#00a651"/>
<polygon transform="translate(676,240) rotate(129.3) scale(1.044)" points="0,-11 3,8 54,3 51,12 130,0 60,-3 63,-13" fill="#00a651"/>
<polygon transform="translate(528,626) rotate(-40.6) scale(1.075)" points="0,-11 3,8 54,3 51,12 130,0 60,-3 63,-13" fill="#00a651"/>
<polygon transform="translate(858,520) rotate(8.0) scale(1.103)" points="0,-11 3,8 54,3 51,12 130,0 60,-3 63,-13" fill="#00a651"/>
<line x1="340" y1="665" x2="227.7" y2="597.6" stroke="#00f" stroke-width="10"/>
<polygon points="190,575 238.0,580.5 220.9,593.5 217.4,614.8" fill="#00f"/>
<line x1="1150" y1="635" x2="1063.4" y2="586.5" stroke="#00f" stroke-width="10"/>
<polygon points="1025,565 1073.2,569.0 1056.4,582.6 1053.6,603.9" fill="#00f"/>
</g>
<text x="444.9" y="385.3" font-size="33.8" fill="#00f" textLength="121.3" lengthAdjust="spacingAndGlyphs" stroke="#00f" stroke-width="0.4">fatigued</text>
<text x="338.5" y="579.5" font-size="26.6" fill="#00f" textLength="163.0" lengthAdjust="spacingAndGlyphs" stroke="#00f" stroke-width="0.4">H-bond break</text>
<text x="640.0" y="576.0" font-size="26.6" fill="#00f" textLength="67.0" lengthAdjust="spacingAndGlyphs" transform="rotate(-26 640.0 576.0)" stroke="#00f" stroke-width="0.4">break</text>
<text x="288.4" y="622.2" font-size="29.8" textLength="455.0" lengthAdjust="spacingAndGlyphs" stroke="#000" stroke-width="0.4">Immersion at pH=8 and air drying</text>
<g transform="translate(280,660) scale(0.33568)">
<rect x="30" y="72" width="1280" height="677" rx="88" fill="#fff" stroke="#FFC12E" stroke-width="10"/>
<ellipse cx="140" cy="570" rx="56" ry="64" fill="#7f9cf5" opacity="0.9" filter="url(#blurb)"/>
<ellipse cx="140" cy="570" rx="38" ry="48" fill="#a9d18e"/>
<ellipse cx="787" cy="545" rx="60" ry="62" fill="#7f9cf5" opacity="0.9" filter="url(#blurb)"/>
<ellipse cx="787" cy="545" rx="42" ry="46" fill="#a9d18e"/>
<ellipse cx="1190" cy="305" rx="60" ry="71" fill="#7f9cf5" opacity="0.9" filter="url(#blurb)"/>
<ellipse cx="1190" cy="305" rx="42" ry="55" fill="#a9d18e"/>
<path d="M110.0 240.0C110.6 245.1 107.7 260.8 113.8 270.7C119.8 280.5 140.2 289.5 146.2 299.3C152.3 309.2 149.4 324.9 150.0 330.0" fill="none" stroke="#644c06" stroke-width="14.5" stroke-linecap="round"/>
<path d="M110.0 240.0C110.6 245.1 107.7 260.8 113.8 270.7C119.8 280.5 140.2 289.5 146.2 299.3C152.3 309.2 149.4 324.9 150.0 330.0" fill="none" stroke="#cfa420" stroke-width="7.2" stroke-linecap="round"/>
<path d="M268.0 575.0C267.8 579.7 262.3 593.7 266.5 603.5C270.8 613.2 289.2 623.8 293.5 633.5C297.7 643.3 292.2 657.3 292.0 662.0" fill="none" stroke="#644c06" stroke-width="14.5" stroke-linecap="round"/>
<path d="M268.0 575.0C267.8 579.7 262.3 593.7 266.5 603.5C270.8 613.2 289.2 623.8 293.5 633.5C297.7 643.3 292.2 657.3 292.0 662.0" fill="none" stroke="#cfa420" stroke-width="7.2" stroke-linecap="round"/>
<path d="M400.0 152.0C400.6 157.0 397.8 172.5 403.8 182.1C409.8 191.8 430.2 200.2 436.2 209.9C442.2 219.5 439.4 235.0 440.0 240.0" fill="none" stroke="#644c06" stroke-width="14.5" stroke-linecap="round"/>
<path d="M400.0 152.0C400.6 157.0 397.8 172.5 403.8 182.1C409.8 191.8 430.2 200.2 436.2 209.9C442.2 219.5 439.4 235.0 440.0 240.0" fill="none" stroke="#cfa420" stroke-width="7.2" stroke-linecap="round"/>
<path d="M600.0 372.0C600.0 375.5 596.0 386.6 600.1 393.1C604.3 399.6 620.7 404.4 624.9 410.9C629.0 417.4 625.0 428.5 625.0 432.0" fill="none" stroke="#644c06" stroke-width="14.5" stroke-linecap="round"/>
<path d="M600.0 372.0C600.0 375.5 596.0 386.6 600.1 393.1C604.3 399.6 620.7 404.4 624.9 410.9C629.0 417.4 625.0 428.5 625.0 432.0" fill="none" stroke="#cfa420" stroke-width="7.2" stroke-linecap="round"/>
<path d="M405.0 430.0C405.8 433.3 404.6 444.1 409.7 449.5C414.7 454.9 430.3 457.1 435.3 462.5C440.4 467.9 439.2 478.7 440.0 482.0" fill="none" stroke="#644c06" stroke-width="14.5" stroke-linecap="round"/>
<path d="M405.0 430.0C405.8 433.3 404.6 444.1 409.7 449.5C414.7 454.9 430.3 457.1 435.3 462.5C440.4 467.9 439.2 478.7 440.0 482.0" fill="none" stroke="#cfa420" stroke-width="7.2" stroke-linecap="round"/>
<path d="M580.0 608.0C581.0 610.2 581.7 618.0 586.1 621.1C590.4 624.3 601.6 623.7 605.9 626.9C610.3 630.0 611.0 637.8 612.0 640.0" fill="none" stroke="#644c06" stroke-width="14.5" stroke-linecap="round"/>
<path d="M580.0 608.0C581.0 610.2 581.7 618.0 586.1 621.1C590.4 624.3 601.6 623.7 605.9 626.9C610.3 630.0 611.0 637.8 612.0 640.0" fill="none" stroke="#cfa420" stroke-width="7.2" stroke-linecap="round"/>
<path d="M772.0 212.0C772.3 216.9 768.4 231.9 773.8 241.6C779.2 251.4 798.8 260.6 804.2 270.4C809.6 280.1 805.7 295.1 806.0 300.0" fill="none" stroke="#644c06" stroke-width="14.5" stroke-linecap="round"/>
<path d="M772.0 212.0C772.3 216.9 768.4 231.9 773.8 241.6C779.2 251.4 798.8 260.6 804.2 270.4C809.6 280.1 805.7 295.1 806.0 300.0" fill="none" stroke="#cfa420" stroke-width="7.2" stroke-linecap="round"/>
<path d="M930.0 618.0C931.6 622.3 932.0 636.8 939.6 643.6C947.2 650.3 967.8 651.7 975.4 658.4C983.0 665.2 983.4 679.7 985.0 684.0" fill="none" stroke="#644c06" stroke-width="14.5" stroke-linecap="round"/>
<path d="M930.0 618.0C931.6 622.3 932.0 636.8 939.6 643.6C947.2 650.3 967.8 651.7 975.4 658.4C983.0 665.2 983.4 679.7 985.0 684.0" fill="none" stroke="#cfa420" stroke-width="7.2" stroke-linecap="round"/>
<path d="M985.0 230.0C984.2 234.3 977.0 246.7 980.0 256.0C983.0 265.3 1000.0 276.7 1003.0 286.0C1006.0 295.3 998.8 307.7 998.0 312.0" fill="none" stroke="#644c06" stroke-width="14.5" stroke-linecap="round"/>
<path d="M985.0 230.0C984.2 234.3 977.0 246.7 980.0 256.0C983.0 265.3 1000.0 276.7 1003.0 286.0C1006.0 295.3 998.8 307.7 998.0 312.0" fill="none" stroke="#cfa420" stroke-width="7.2" stroke-linecap="round"/>
<path d="M1110.0 508.0C1112.9 513.1 1117.2 530.4 1127.6 538.9C1138.0 547.4 1162.0 550.6 1172.4 559.1C1182.8 567.6 1187.1 584.9 1190.0 590.0" fill="none" stroke="#644c06" stroke-width="14.5" stroke-linecap="round"/>
<path d="M1110.0 508.0C1112.9 513.1 1117.2 530.4 1127.6 538.9C1138.0 547.4 1162.0 550.6 1172.4 559.1C1182.8 567.6 1187.1 584.9 1190.0 590.0" fill="none" stroke="#cfa420" stroke-width="7.2" stroke-linecap="round"/>
<path d="M955.0 482.0C954.8 484.3 951.2 491.5 953.9 495.6C956.6 499.7 968.4 502.3 971.1 506.4C973.8 510.5 970.2 517.7 970.0 520.0" fill="none" stroke="#644c06" stroke-width="14.5" stroke-linecap="round"/>
<path d="M955.0 482.0C954.8 484.3 951.2 491.5 953.9 495.6C956.6 499.7 968.4 502.3 971.1 506.4C973.8 510.5 970.2 517.7 970.0 520.0" fill="none" stroke="#cfa420" stroke-width="7.2" stroke-linecap="round"/>
<path d="M1150.0 392.0C1150.6 394.6 1149.4 403.3 1153.5 407.4C1157.6 411.5 1170.4 412.5 1174.5 416.6C1178.6 420.7 1177.4 429.4 1178.0 432.0" fill="none" stroke="#644c06" stroke-width="14.5" stroke-linecap="round"/>
<path d="M1150.0 392.0C1150.6 394.6 1149.4 403.3 1153.5 407.4C1157.6 411.5 1170.4 412.5 1174.5 416.6C1178.6 420.7 1177.4 429.4 1178.0 432.0" fill="none" stroke="#cfa420" stroke-width="7.2" stroke-linecap="round"/>
<path d="M205.0 385.0C209.5 391.7 227.5 410.8 232.0 425.0C236.5 439.2 230.3 455.5 232.0 470.0C233.7 484.5 240.3 505.0 242.0 512.0" fill="none" stroke="#1a1a1a" stroke-width="16" stroke-linecap="round"/>
<path d="M205.0 385.0C209.5 391.7 227.5 410.8 232.0 425.0C236.5 439.2 230.3 455.5 232.0 470.0C233.7 484.5 240.3 505.0 242.0 512.0" fill="none" stroke="#555" stroke-width="4.8" stroke-linecap="round"/>
<path d="M498.0 290.0C501.7 291.7 513.8 297.7 520.0 300.0C526.2 302.3 530.3 300.3 535.0 304.0C539.7 307.7 545.8 319.0 548.0 322.0" fill="none" stroke="#1a1a1a" stroke-width="16" stroke-linecap="round"/>
<path d="M498.0 290.0C501.7 291.7 513.8 297.7 520.0 300.0C526.2 302.3 530.3 300.3 535.0 304.0C539.7 307.7 545.8 319.0 548.0 322.0" fill="none" stroke="#555" stroke-width="4.8" stroke-linecap="round"/>
<path d="M505.0 530.0C507.5 532.5 518.8 540.0 520.0 545.0C521.2 550.0 510.0 555.5 512.0 560.0C514.0 564.5 528.7 570.0 532.0 572.0" fill="none" stroke="#1a1a1a" stroke-width="16" stroke-linecap="round"/>
<path d="M505.0 530.0C507.5 532.5 518.8 540.0 520.0 545.0C521.2 550.0 510.0 555.5 512.0 560.0C514.0 564.5 528.7 570.0 532.0 572.0" fill="none" stroke="#555" stroke-width="4.8" stroke-linecap="round"/>
<path d="M860.0 360.0C866.7 368.3 898.3 391.7 900.0 410.0C901.7 428.3 875.3 451.7 870.0 470.0C864.7 488.3 865.0 504.7 868.0 520.0C871.0 535.3 884.7 555.0 888.0 562.0" fill="none" stroke="#1a1a1a" stroke-width="16" stroke-linecap="round"/>
<path d="M860.0 360.0C866.7 368.3 898.3 391.7 900.0 410.0C901.7 428.3 875.3 451.7 870.0 470.0C864.7 488.3 865.0 504.7 868.0 520.0C871.0 535.3 884.7 555.0 888.0 562.0" fill="none" stroke="#555" stroke-width="4.8" stroke-linecap="round"/>
<path d="M1036.0 376.0C1039.2 382.5 1049.0 402.7 1055.0 415.0C1061.0 427.3 1069.2 444.2 1072.0 450.0" fill="none" stroke="#1a1a1a" stroke-width="16" stroke-linecap="round"/>
<path d="M1036.0 376.0C1039.2 382.5 1049.0 402.7 1055.0 415.0C1061.0 427.3 1069.2 444.2 1072.0 450.0" fill="none" stroke="#555" stroke-width="4.8" stroke-linecap="round"/>
<path d="M60.0 240.0C70.0 234.2 96.7 216.3 120.0 205.0C143.3 193.7 153.3 182.8 200.0 172.0C246.7 161.2 350.0 140.3 400.0 140.0C450.0 139.7 466.7 159.0 500.0 170.0C533.3 181.0 553.3 201.8 600.0 206.0C646.7 210.2 713.3 193.5 780.0 195.0C846.7 196.5 915.0 206.7 1000.0 215.0C1085.0 223.3 1241.7 240.0 1290.0 245.0" fill="none" stroke="#644c06" stroke-width="24.5" stroke-linecap="round"/>
<path d="M60.0 240.0C70.0 234.2 96.7 216.3 120.0 205.0C143.3 193.7 153.3 182.8 200.0 172.0C246.7 161.2 350.0 140.3 400.0 140.0C450.0 139.7 466.7 159.0 500.0 170.0C533.3 181.0 553.3 201.8 600.0 206.0C646.7 210.2 713.3 193.5 780.0 195.0C846.7 196.5 915.0 206.7 1000.0 215.0C1085.0 223.3 1241.7 240.0 1290.0 245.0" fill="none" stroke="#c09616" stroke-width="14.7" stroke-linecap="round"/>
<path d="M60.0 240.0C70.0 234.2 96.7 216.3 120.0 205.0C143.3 193.7 153.3 182.8 200.0 172.0C246.7 161.2 350.0 140.3 400.0 140.0C450.0 139.7 466.7 159.0 500.0 170.0C533.3 181.0 553.3 201.8 600.0 206.0C646.7 210.2 713.3 193.5 780.0 195.0C846.7 196.5 915.0 206.7 1000.0 215.0C1085.0 223.3 1241.7 240.0 1290.0 245.0" fill="none" stroke="#e2bc3a" stroke-width="7.3" stroke-linecap="round"/>
<path d="M120.0 505.0C141.7 506.2 215.0 517.8 250.0 512.0C285.0 506.2 305.0 485.3 330.0 470.0C355.0 454.7 376.7 430.0 400.0 420.0C423.3 410.0 436.7 406.7 470.0 410.0C503.3 413.3 553.3 429.0 600.0 440.0C646.7 451.0 700.0 471.0 750.0 476.0C800.0 481.0 858.3 476.0 900.0 470.0C941.7 464.0 966.7 453.0 1000.0 440.0C1033.3 427.0 1064.2 403.7 1100.0 392.0C1135.8 380.3 1195.8 373.7 1215.0 370.0" fill="none" stroke="#644c06" stroke-width="24.5" stroke-linecap="round"/>
<path d="M120.0 505.0C141.7 506.2 215.0 517.8 250.0 512.0C285.0 506.2 305.0 485.3 330.0 470.0C355.0 454.7 376.7 430.0 400.0 420.0C423.3 410.0 436.7 406.7 470.0 410.0C503.3 413.3 553.3 429.0 600.0 440.0C646.7 451.0 700.0 471.0 750.0 476.0C800.0 481.0 858.3 476.0 900.0 470.0C941.7 464.0 966.7 453.0 1000.0 440.0C1033.3 427.0 1064.2 403.7 1100.0 392.0C1135.8 380.3 1195.8 373.7 1215.0 370.0" fill="none" stroke="#c09616" stroke-width="14.7" stroke-linecap="round"/>
<path d="M120.0 505.0C141.7 506.2 215.0 517.8 250.0 512.0C285.0 506.2 305.0 485.3 330.0 470.0C355.0 454.7 376.7 430.0 400.0 420.0C423.3 410.0 436.7 406.7 470.0 410.0C503.3 413.3 553.3 429.0 600.0 440.0C646.7 451.0 700.0 471.0 750.0 476.0C800.0 481.0 858.3 476.0 900.0 470.0C941.7 464.0 966.7 453.0 1000.0 440.0C1033.3 427.0 1064.2 403.7 1100.0 392.0C1135.8 380.3 1195.8 373.7 1215.0 370.0" fill="none" stroke="#e2bc3a" stroke-width="7.3" stroke-linecap="round"/>
<path d="M75.0 605.0C87.5 613.8 120.8 645.5 150.0 658.0C179.2 670.5 208.3 681.0 250.0 680.0C291.7 679.0 358.3 658.7 400.0 652.0C441.7 645.3 475.8 636.7 500.0 640.0C524.2 643.3 525.0 672.0 545.0 672.0C565.0 672.0 590.8 652.8 620.0 640.0C649.2 627.2 690.0 598.3 720.0 595.0C750.0 591.7 770.0 607.5 800.0 620.0C830.0 632.5 866.7 658.3 900.0 670.0C933.3 681.7 966.7 691.7 1000.0 690.0C1033.3 688.3 1066.7 675.0 1100.0 660.0C1133.3 645.0 1171.7 619.2 1200.0 600.0C1228.3 580.8 1258.3 554.2 1270.0 545.0" fill="none" stroke="#644c06" stroke-width="24.5" stroke-linecap="round"/>
<path d="M75.0 605.0C87.5 613.8 120.8 645.5 150.0 658.0C179.2 670.5 208.3 681.0 250.0 680.0C291.7 679.0 358.3 658.7 400.0 652.0C441.7 645.3 475.8 636.7 500.0 640.0C524.2 643.3 525.0 672.0 545.0 672.0C565.0 672.0 590.8 652.8 620.0 640.0C649.2 627.2 690.0 598.3 720.0 595.0C750.0 591.7 770.0 607.5 800.0 620.0C830.0 632.5 866.7 658.3 900.0 670.0C933.3 681.7 966.7 691.7 1000.0 690.0C1033.3 688.3 1066.7 675.0 1100.0 660.0C1133.3 645.0 1171.7 619.2 1200.0 600.0C1228.3 580.8 1258.3 554.2 1270.0 545.0" fill="none" stroke="#c09616" stroke-width="14.7" stroke-linecap="round"/>
<path d="M75.0 605.0C87.5 613.8 120.8 645.5 150.0 658.0C179.2 670.5 208.3 681.0 250.0 680.0C291.7 679.0 358.3 658.7 400.0 652.0C441.7 645.3 475.8 636.7 500.0 640.0C524.2 643.3 525.0 672.0 545.0 672.0C565.0 672.0 590.8 652.8 620.0 640.0C649.2 627.2 690.0 598.3 720.0 595.0C750.0 591.7 770.0 607.5 800.0 620.0C830.0 632.5 866.7 658.3 900.0 670.0C933.3 681.7 966.7 691.7 1000.0 690.0C1033.3 688.3 1066.7 675.0 1100.0 660.0C1133.3 645.0 1171.7 619.2 1200.0 600.0C1228.3 580.8 1258.3 554.2 1270.0 545.0" fill="none" stroke="#e2bc3a" stroke-width="7.3" stroke-linecap="round"/>
<use href="#im" transform="translate(174,354) rotate(-145)"/>
<use href="#im" transform="translate(256,546) rotate(62)"/>
<use href="#im" transform="translate(464,264) rotate(-145)"/>
<use href="#im" transform="translate(576,346) rotate(42)"/>
<use href="#im" transform="translate(464,504) rotate(-142)"/>
<use href="#im" transform="translate(556,590) rotate(42)"/>
<use href="#im" transform="translate(830,324) rotate(-135)"/>
<use href="#im" transform="translate(906,590) rotate(45)"/>
<use href="#im" transform="translate(1014,340) rotate(-125)"/>
<use href="#im" transform="translate(1090,480) rotate(52)"/>
<use href="#ry" transform="translate(975,536) rotate(-80)"/>
<use href="#ry" transform="translate(1186,446) rotate(-120)"/>
</g>
<text x="454.5" y="710.8" font-size="33.8" fill="#00f" textLength="151.0" lengthAdjust="spacingAndGlyphs" stroke="#00f" stroke-width="0.4">recovered</text>
<rect x="493.3" y="307.5" width="29.6" height="22" fill="url(#fade)"/>
<polygon points="478.3,328.4 538,328.4 508.2,355.8" fill="#000"/>
<rect x="489.7" y="635.5" width="29.5" height="21" fill="url(#fade)"/>
<polygon points="474.5,655.2 534.2,655.2 504.2,682.8" fill="#000"/>
<path d="M23 951.5C30 945 37 947 44 952.5S57 958 65 951.5" fill="none" stroke="#111" stroke-width="5.6" stroke-linecap="round"/>
<polygon points="9.5,952.5 16.5,938 25.7,940.5 25.7,964.5 16.5,967.4" fill="url(#cyg2)"/>
<polygon points="79,952.5 72,938 62.8,940.5 62.8,964.5 72,967.4" fill="url(#cyg2)"/>
<text x="87.6" y="963.5" font-size="32.4" textLength="220.0" lengthAdjust="spacingAndGlyphs" stroke="#000" stroke-width="0.4">Glutaraldehyde</text>
<polygon points="339,939.5 350,939.5 361.8,950.5 350,961.8 339,961.8 350.5,950.5" fill="#f01414"/>
<polygon points="328.5,941 345,940.5 352.5,950.8 345,961.2 328.5,961.3" fill="url(#cyg2)"/>
<text x="368.3" y="960.5" font-size="32.4" textLength="177.0" lengthAdjust="spacingAndGlyphs" stroke="#000" stroke-width="0.4">Imine (<tspan fill="#f00" stroke="#f00">C=N</tspan>)</text>
<rect x="567" y="939" width="33" height="27" rx="8" fill="#7f9cf5" filter="url(#blurl)"/>
<ellipse cx="584.8" cy="953" rx="15" ry="9.6" fill="#a9d18e"/>
<text x="612.3" y="963.8" font-size="32.4" textLength="111.5" lengthAdjust="spacingAndGlyphs" stroke="#000" stroke-width="0.4">H-bond</text>
<text x="282.0" y="39.0" font-size="45" font-weight="bold">b</text>
<marker id="m1" markerWidth="12" markerHeight="11" refX="6" refY="6.3" markerUnits="userSpaceOnUse" orient="0"><path d="M1 9.9L6 1L11 9.9Z" fill="#fff" stroke="#000" stroke-width="0.9"/></marker>
<polyline points="824.8,441.2 827.1,434.7 829.4,428.2 831.7,421.6 834.0,414.7 836.3,407.0 838.6,398.9 840.9,390.8 843.2,383.3 845.5,376.3 847.8,369.7 850.0,363.3 852.3,357.3 854.6,351.4 856.9,345.9 859.2,340.6 861.5,335.6 863.8,331.0 866.1,326.7 868.4,322.8 870.7,319.2 873.0,315.7 875.3,312.4 877.6,309.3 879.9,306.4 882.2,303.7 884.5,301.2 886.8,299.0 889.1,296.9 891.4,295.0 893.6,293.1 895.9,291.3 898.2,289.5 900.5,287.6 902.8,285.8 905.1,284.0 907.4,282.3 909.7,280.6 912.0,278.8 914.3,277.1 916.6,275.4 918.9,273.7 921.2,272.0 923.5,270.3 925.8,268.6 928.1,266.8 930.4,265.1 932.7,263.4 935.0,261.7 937.3,260.0 939.5,258.3 941.8,256.6 944.1,254.9 946.4,253.2 948.7,251.5 951.0,249.8 953.3,248.1 955.6,246.4 957.9,244.7 960.2,243.0 962.5,241.2 964.8,239.5 967.1,237.8 969.4,236.0 971.7,234.3 974.0,232.6 976.3,230.8 978.6,229.1 980.9,227.3 983.2,225.6 985.4,223.9 987.7,222.2 990.0,220.4 992.3,218.7 994.6,217.0 996.9,215.4 999.2,213.7 1001.5,212.0 1003.8,210.4 1006.1,208.7 1008.4,207.1 1010.7,205.5 1013.0,203.9 1015.3,202.3 1017.6,200.7 1019.9,199.1 1022.2,197.5 1024.5,195.9 1026.8,194.3 1029.1,192.8 1031.3,191.2 1033.6,189.7 1035.9,188.1 1038.2,186.6 1040.5,185.0 1042.8,183.5 1045.1,182.0 1047.4,180.5 1049.7,179.0 1052.0,177.5 1054.3,176.1 1056.6,174.6 1058.9,173.1 1061.2,171.7 1063.5,170.3 1065.8,168.9 1068.1,167.5 1070.4,166.1 1072.7,164.7 1075.0,163.3 1077.2,162.0 1079.5,160.6 1081.8,159.3 1084.1,158.0 1086.4,156.7 1088.7,155.4 1091.0,154.1 1093.3,152.8 1095.6,151.5 1097.9,150.2 1100.2,149.0 1102.5,147.7 1104.8,146.5 1107.1,145.2 1109.4,144.0 1111.7,142.8 1114.0,141.6 1116.3,140.4 1118.6,139.1 1120.9,137.9 1123.1,136.8 1125.4,135.6 1127.7,134.4 1130.0,133.2 1132.3,132.0 1134.6,130.9 1136.9,129.7 1139.2,128.5 1141.5,127.4 1143.8,126.2 1146.1,125.1 1148.4,123.9 1150.7,122.8 1153.0,121.6 1155.3,120.5 1157.6,119.4 1159.9,118.3 1162.2,117.2 1164.5,116.2 1166.8,115.1 1169.0,114.0 1171.3,113.0 1173.6,111.9 1175.9,110.9 1178.2,109.8 1180.5,108.8 1182.8,107.7 1185.1,106.7 1187.4,105.7 1189.7,104.6 1192.0,103.6 1194.3,102.6 1196.6,101.6 1198.9,100.6 1201.2,99.5 1203.5,98.5 1205.8,97.5 1208.1,96.5 1210.4,95.5 1212.7,94.5 1214.9,93.5 1217.2,92.5 1219.5,91.5 1221.8,90.5 1224.1,89.5 1226.4,88.6 1228.7,87.6 1231.0,86.6 1233.3,85.6 1235.6,84.7 1237.9,83.7 1240.2,82.7 1242.5,81.7 1244.8,80.8 1247.1,79.8 1249.4,78.8 1251.7,87.6 1255.1,106.2" fill="none" stroke="none" marker-start="url(#m1)" marker-mid="url(#m1)" marker-end="url(#m1)"/>
<marker id="m2" markerWidth="12" markerHeight="11" refX="6" refY="6.3" markerUnits="userSpaceOnUse" orient="0"><path d="M1 9.9L6 1L11 9.9Z" fill="#fff" stroke="#f00" stroke-width="0.9"/></marker>
<polyline points="834.0,441.2 836.3,433.6 838.6,426.1 840.9,418.5 843.2,410.7 845.5,402.6 847.8,394.6 850.0,386.9 852.3,379.9 854.6,373.6 856.9,367.7 859.2,362.0 861.5,356.2 863.8,350.4 866.1,344.8 868.4,339.8 870.7,335.7 873.0,332.1 875.3,328.9 877.6,325.9 879.9,322.9 882.2,320.1 884.5,317.4 886.8,314.8 889.1,312.4 891.4,310.1 893.6,307.9 895.9,305.7 898.2,303.7 900.5,301.7 902.8,299.8 905.1,298.0 907.4,296.1 909.7,294.4 912.0,292.6 914.3,290.9 916.6,289.2 918.9,287.5 921.2,285.8 923.5,284.1 925.8,282.4 928.1,280.7 930.4,279.0 932.7,277.3 935.0,275.6 937.3,273.9 939.5,272.2 941.8,270.6 944.1,268.9 946.4,267.3 948.7,265.6 951.0,264.0 953.3,262.3 955.6,260.7 957.9,259.0 960.2,257.4 962.5,255.7 964.8,254.0 967.1,252.3 969.4,250.6 971.7,248.9 974.0,247.2 976.3,245.4 978.6,243.6 980.9,241.9 983.2,240.1 985.4,238.3 987.7,236.5 990.0,234.7 992.3,232.9 994.6,231.1 996.9,229.3 999.2,227.4 1001.5,225.6 1003.8,223.8 1006.1,222.0 1008.4,220.2 1010.7,218.4 1013.0,216.6 1015.3,214.9 1017.6,213.1 1019.9,211.3 1022.2,209.6 1024.5,207.8 1026.8,206.1 1029.1,204.4 1031.3,202.6 1033.6,200.9 1035.9,199.2 1038.2,197.5 1040.5,195.8 1042.8,194.1 1045.1,192.3 1047.4,190.6 1049.7,188.9 1052.0,187.2 1054.3,185.5 1056.6,183.8 1058.9,182.1 1061.2,180.4 1063.5,178.7 1065.8,177.0 1068.1,175.3 1070.4,173.6 1072.7,182.2 1075.0,198.2 1077.2,225.9" fill="none" stroke="none" marker-start="url(#m2)" marker-mid="url(#m2)" marker-end="url(#m2)"/>
<marker id="m3" markerWidth="12" markerHeight="11" refX="6" refY="6.3" markerUnits="userSpaceOnUse" orient="0"><path d="M1 9.9L6 1L11 9.9Z" fill="#fff" stroke="#00f" stroke-width="0.9"/></marker>
<polyline points="824.8,441.2 827.1,437.4 829.4,433.6 831.7,429.3 834.0,423.9 836.3,417.8 838.6,411.0 840.9,403.4 843.2,394.7 845.5,384.3 847.8,372.9 850.0,361.6 852.3,350.6 854.6,339.5 856.9,329.0 859.2,319.5 861.5,310.7 863.8,302.6 866.1,295.2 868.4,288.5 870.7,282.5 873.0,277.2 875.3,272.3 877.6,268.0 879.9,264.3 882.2,261.1 884.5,258.7 886.8,256.8 889.1,255.2 891.4,254.0 893.6,253.0 895.9,252.2 898.2,251.3 900.5,250.5 902.8,249.8 905.1,249.1 907.4,248.5 909.7,247.8 912.0,247.2 914.3,246.5 916.6,245.7 918.9,244.9 921.2,244.2 923.5,243.4 925.8,242.6 928.1,241.7 930.4,240.9 932.7,240.0 935.0,239.1 937.3,238.2 939.5,237.3 941.8,236.3 944.1,235.3 946.4,234.3 948.7,233.2 951.0,232.1 953.3,231.0 955.6,229.9 957.9,228.8 960.2,227.6 962.5,226.4 964.8,225.2 967.1,224.0 969.4,222.8 971.7,221.5 974.0,220.3 976.3,219.0 978.6,217.7 980.9,216.5 983.2,215.1 985.4,213.8 987.7,212.5 990.0,211.2 992.3,209.8 994.6,208.5 996.9,207.1 999.2,205.7 1001.5,204.3 1003.8,202.9 1006.1,201.5 1008.4,200.1 1010.7,198.6 1013.0,197.1 1015.3,195.7 1017.6,194.2 1019.9,192.7 1022.2,191.2 1024.5,189.8 1026.8,188.3 1029.1,186.8 1031.3,185.3 1033.6,183.8 1035.9,182.3 1038.2,180.9 1040.5,179.4 1042.8,178.0 1045.1,176.5 1047.4,175.1 1049.7,173.7 1052.0,172.3 1054.3,170.9 1056.6,169.5 1058.9,168.2 1061.2,166.8 1063.5,165.5 1065.8,164.2 1068.1,162.8 1070.4,161.5 1072.7,160.2 1075.0,158.9 1077.2,157.6 1079.5,156.3 1081.8,155.0 1084.1,153.7 1086.4,152.4 1088.7,151.1 1091.0,149.9 1093.3,148.6 1095.6,147.3 1097.9,146.1 1100.2,144.8 1102.5,143.5 1104.8,142.3 1107.1,141.0 1109.4,139.8 1111.7,138.5 1114.0,137.3 1116.3,136.0 1118.6,134.8 1120.9,133.5 1123.1,132.3 1125.4,131.0 1127.7,129.8 1130.0,128.6 1132.3,127.4 1134.6,126.1 1136.9,124.9 1139.2,123.7 1141.5,122.5 1143.8,121.3 1146.1,120.1 1148.4,118.9 1150.7,117.7 1153.0,116.5 1155.3,115.3 1157.6,114.1 1159.9,112.9 1162.2,111.7 1164.5,110.5 1166.8,109.4 1169.0,108.2 1171.3,107.0 1173.6,105.8 1175.9,104.6 1178.2,103.4 1180.5,102.2 1182.8,101.1 1185.1,99.9 1187.4,98.7 1189.7,97.6 1192.0,96.4 1194.3,95.2 1196.6,94.0 1198.9,92.9 1201.2,91.7 1203.5,90.5 1205.8,89.4 1208.1,88.2 1210.4,87.0 1214.9,101.6 1217.2,138.6" fill="none" stroke="none" marker-start="url(#m3)" marker-mid="url(#m3)" marker-end="url(#m3)"/>
<rect x="824.8" y="48.9" width="488.0" height="392.3" fill="none" stroke="#000" stroke-width="2.4" />
<text x="813.8" y="449.8" font-size="24" text-anchor="end" stroke="#000" stroke-width="0.4">0</text>
<line x1="824.8" y1="368.8" x2="832.8" y2="368.8" stroke="#000" stroke-width="2.2" />
<text x="813.8" y="377.4" font-size="24" text-anchor="end" stroke="#000" stroke-width="0.4">60</text>
<line x1="824.8" y1="296.4" x2="832.8" y2="296.4" stroke="#000" stroke-width="2.2" />
<text x="813.8" y="305.0" font-size="24" text-anchor="end" stroke="#000" stroke-width="0.4">120</text>
<line x1="824.8" y1="224.0" x2="832.8" y2="224.0" stroke="#000" stroke-width="2.2" />
<text x="813.8" y="232.6" font-size="24" text-anchor="end" stroke="#000" stroke-width="0.4">180</text>
<line x1="824.8" y1="151.6" x2="832.8" y2="151.6" stroke="#000" stroke-width="2.2" />
<text x="813.8" y="160.2" font-size="24" text-anchor="end" stroke="#000" stroke-width="0.4">240</text>
<line x1="824.8" y1="79.2" x2="832.8" y2="79.2" stroke="#000" stroke-width="2.2" />
<text x="813.8" y="87.8" font-size="24" text-anchor="end" stroke="#000" stroke-width="0.4">300</text>
<text x="824.8" y="471.3" font-size="24" text-anchor="middle" stroke="#000" stroke-width="0.4">0</text>
<line x1="916.6" y1="441.2" x2="916.6" y2="433.2" stroke="#000" stroke-width="2.2" />
<text x="916.6" y="471.3" font-size="24" text-anchor="middle" stroke="#000" stroke-width="0.4">8</text>
<line x1="1008.4" y1="441.2" x2="1008.4" y2="433.2" stroke="#000" stroke-width="2.2" />
<text x="1008.4" y="471.3" font-size="24" text-anchor="middle" stroke="#000" stroke-width="0.4">16</text>
<line x1="1100.2" y1="441.2" x2="1100.2" y2="433.2" stroke="#000" stroke-width="2.2" />
<text x="1100.2" y="471.3" font-size="24" text-anchor="middle" stroke="#000" stroke-width="0.4">24</text>
<line x1="1192.0" y1="441.2" x2="1192.0" y2="433.2" stroke="#000" stroke-width="2.2" />
<text x="1192.0" y="471.3" font-size="24" text-anchor="middle" stroke="#000" stroke-width="0.4">32</text>
<line x1="1283.8" y1="441.2" x2="1283.8" y2="433.2" stroke="#000" stroke-width="2.2" />
<text x="1283.8" y="471.3" font-size="24" text-anchor="middle" stroke="#000" stroke-width="0.4">40</text>
<text x="997.0" y="499.0" font-size="32" textLength="143.0" lengthAdjust="spacingAndGlyphs" stroke="#000" stroke-width="0.4">Strain (%)</text>
<text x="754.5" y="329.0" font-size="32" textLength="189.0" lengthAdjust="spacingAndGlyphs" transform="rotate(-90 754.5 329.0)" stroke="#000" stroke-width="0.4">Stress (MPa)</text>
<line x1="845.0" y1="66.5" x2="873.0" y2="66.5" stroke="#000" stroke-width="2.2" stroke-dasharray="4.5 2.4"/>
<text x="884.0" y="75.0" font-size="26" textLength="142.0" lengthAdjust="spacingAndGlyphs" stroke="#000" stroke-width="0.4">original fiber</text>
<line x1="845.0" y1="96.5" x2="873.0" y2="96.5" stroke="#f00" stroke-width="2.2" stroke-dasharray="4.5 2.4"/>
<text x="887.0" y="105.0" font-size="26" textLength="146.0" lengthAdjust="spacingAndGlyphs" stroke="#000" stroke-width="0.4">fatigued fiber</text>
<line x1="845.0" y1="122.5" x2="873.0" y2="122.5" stroke="#00f" stroke-width="2.2" stroke-dasharray="4.5 2.4"/>
<text x="887.0" y="131.0" font-size="26" textLength="173.0" lengthAdjust="spacingAndGlyphs" stroke="#000" stroke-width="0.4">recovered fiber</text>
<line x1="1246.6" y1="97.7" x2="1099.6" y2="175.3" stroke="#FFB400" stroke-width="4.2" stroke-dasharray="10.5 4.5"/>
<polygon points="1086.3,182.3 1098.5,169.1 1104.1,179.7" fill="#FFB400"/>
<line x1="1081.8" y1="221.1" x2="1200.7" y2="155.1" stroke="#00EE00" stroke-width="4.2" stroke-dasharray="10.5 4.5"/>
<polygon points="1213.8,147.8 1201.9,161.3 1196.0,150.8" fill="#00EE00"/>
<text x="981.0" y="295.0" font-size="30.5" textLength="118.0" lengthAdjust="spacingAndGlyphs" transform="rotate(-15 981.0 295.0)" stroke="#000" stroke-width="0.4">Fatigued</text>
<text x="1129.0" y="362.0" font-size="31" textLength="222.0" lengthAdjust="spacingAndGlyphs" transform="rotate(-54.5 1129.0 362.0)" stroke="#000" stroke-width="0.4">pH=8 recovered</text>
<text x="755.0" y="38.5" font-size="44" font-weight="bold">c</text>
<marker id="m4" markerWidth="12" markerHeight="11" refX="6" refY="6.3" markerUnits="userSpaceOnUse" orient="0"><path d="M1 9.9L6 1L11 9.9Z" fill="#fff" stroke="#000" stroke-width="0.9"/></marker>
<polyline points="836.9,944.7 838.5,939.6 840.0,934.5 841.6,929.4 843.2,924.4 844.7,919.3 846.3,914.4 847.8,909.5 849.4,904.6 851.0,899.7 852.5,894.9 854.1,890.3 855.7,885.9 857.2,881.6 858.8,877.6 860.3,873.8 861.9,870.1 863.5,866.5 865.0,863.1 866.6,859.8 868.2,856.6 869.7,853.5 871.3,850.5 872.9,847.7 874.4,845.1 876.0,842.7 877.5,840.6 879.1,838.7 880.7,837.0 882.2,835.4 883.8,833.9 885.4,832.5 886.9,831.2 888.5,830.0 890.0,829.0 891.6,828.0 893.2,827.2 894.7,826.3 896.3,825.6 897.9,824.9 899.4,824.2 901.0,823.6 902.6,823.0 904.1,822.4 905.7,821.8 907.2,821.3 908.8,820.8 910.4,820.2 911.9,819.7 913.5,819.1 915.1,818.5 916.6,818.0 918.2,817.4 919.7,816.9 921.3,816.4 922.9,815.9 924.4,815.4 926.0,814.9 927.6,814.5 929.1,814.0 930.7,813.6 932.3,813.1 933.8,812.7 935.4,812.2 936.9,811.7 938.5,811.3 940.1,810.8 941.6,810.3 943.2,809.7 944.8,809.2 946.3,808.6 947.9,808.0 949.5,807.4 951.0,806.7 952.6,806.0 954.1,805.3 955.7,804.5 957.3,803.7 958.8,802.9 960.4,802.0 962.0,801.1 963.5,800.1 965.1,799.2 966.6,798.2 968.2,797.2 969.8,796.1 971.3,795.1 972.9,794.0 974.5,792.9 976.0,791.8 977.6,790.7 979.2,789.6 980.7,788.4 982.3,787.3 983.8,786.1 985.4,784.9 987.0,783.7 988.5,782.5 990.1,781.3 991.7,780.1 993.2,778.9 994.8,777.7 996.3,776.5 997.9,775.2 999.5,774.0 1001.0,772.8 1002.6,771.6 1004.2,770.4 1005.7,769.2 1007.3,768.0 1008.9,766.8 1010.4,765.6 1012.0,764.4 1013.5,763.3 1015.1,762.1 1016.7,760.9 1018.2,759.7 1019.8,758.6 1021.4,757.4 1022.9,756.2 1024.5,755.0 1026.0,753.8 1027.6,752.6 1029.2,751.3 1030.7,750.1 1032.3,748.9 1033.9,747.7 1035.4,746.5 1037.0,745.2 1038.6,744.0 1040.1,742.8 1041.7,741.5 1043.2,740.3 1044.8,739.1 1046.4,737.9 1047.9,736.6 1049.5,735.4 1051.1,734.2 1052.6,732.9 1054.2,731.7 1055.7,730.5 1057.3,729.3 1058.9,728.1 1060.4,726.9 1062.0,725.6 1063.6,724.4 1065.1,723.2 1066.7,722.0 1068.3,720.9 1069.8,719.7 1071.4,718.5 1072.9,717.3 1074.5,716.2 1076.1,715.0 1077.6,713.8 1079.2,712.7 1080.8,711.6 1082.3,710.4 1083.9,709.3 1085.4,708.2 1087.0,707.1 1088.6,705.9 1090.1,704.8 1091.7,703.7 1093.3,702.6 1094.8,701.5 1096.4,700.4 1098.0,699.3 1099.5,698.2 1101.1,697.1 1102.6,696.0 1104.2,694.9 1105.8,693.8 1107.3,692.7 1108.9,691.6 1110.5,690.5 1112.0,689.4 1113.6,688.4 1115.1,687.3 1116.7,686.2 1118.3,685.2 1119.8,684.1 1121.4,683.1 1123.0,682.0 1124.5,681.0 1126.1,679.9 1127.7,678.9 1129.2,677.9 1130.8,676.9 1132.3,675.8 1133.9,674.8 1135.5,673.8 1137.0,672.8 1138.6,671.8 1140.2,670.8 1141.7,669.8 1143.3,668.9 1144.9,667.9 1146.4,666.9 1148.0,666.0 1149.5,665.0 1151.1,664.1 1152.7,663.1 1154.2,662.2 1155.8,661.3 1157.4,660.4 1158.9,659.5 1160.5,658.6 1162.0,657.7 1163.6,656.8 1165.2,655.9 1166.7,655.0 1168.3,654.1 1169.9,653.3 1171.4,652.4 1173.0,651.5 1174.6,650.7 1176.1,649.9 1177.7,649.0 1179.2,648.2 1180.8,647.3 1182.4,646.5 1183.9,645.7 1185.5,644.9 1187.1,644.1 1188.6,643.3 1190.2,642.5 1191.7,641.7 1193.3,640.9 1194.9,640.1 1196.4,639.3 1198.0,638.5 1199.6,637.7 1201.1,636.9 1202.7,636.2 1204.3,635.4 1205.8,634.6 1207.4,633.9 1208.9,633.1 1210.5,632.3 1212.1,631.6 1213.6,630.9 1215.2,630.1 1216.8,629.4 1218.3,628.7 1219.9,628.0 1221.4,627.3 1223.0,626.6 1224.6,626.0 1226.1,625.3 1227.7,624.6 1229.3,623.9 1230.8,623.3 1232.4,622.6 1234.0,621.9 1235.5,621.3 1237.1,620.6 1238.6,619.9 1240.2,619.3 1241.8,618.6 1243.3,617.9 1244.9,617.3 1246.5,616.6 1248.0,615.9 1252.1,623.2" fill="none" stroke="none" marker-start="url(#m4)" marker-mid="url(#m4)" marker-end="url(#m4)"/>
<marker id="m5" markerWidth="12" markerHeight="11" refX="6" refY="6.3" markerUnits="userSpaceOnUse" orient="0"><path d="M1 9.9L6 1L11 9.9Z" fill="#fff" stroke="#E8A838" stroke-width="0.9"/></marker>
<polyline points="839.8,944.7 841.4,940.5 843.0,936.2 844.5,931.9 846.1,927.6 847.6,923.3 849.2,919.2 850.8,915.1 852.3,911.2 853.9,907.4 855.5,903.7 857.0,900.0 858.6,896.4 860.2,892.8 861.7,889.3 863.3,885.9 864.8,882.5 866.4,879.1 868.0,875.7 869.5,872.4 871.1,869.0 872.7,865.8 874.2,862.6 875.8,859.6 877.3,856.7 878.9,854.0 880.5,851.5 882.0,849.2 883.6,847.1 885.2,845.1 886.7,843.2 888.3,841.5 889.9,839.8 891.4,838.2 893.0,836.7 894.5,835.2 896.1,833.8 897.7,832.3 899.2,831.0 900.8,829.7 902.4,828.5 903.9,827.4 905.5,826.2 907.0,825.2 908.6,824.1 910.2,823.1 911.7,822.1 913.3,821.1 914.9,820.1 916.4,819.2 918.0,818.2 919.6,817.3 921.1,816.4 922.7,815.5 924.2,814.7 925.8,813.8 927.4,813.0 928.9,812.2 930.5,811.4 932.1,810.6 933.6,809.8 935.2,809.1 936.7,808.3 938.3,807.5 939.9,806.8 941.4,806.0 943.0,805.3 944.6,804.5 946.1,803.7 947.7,802.9 949.3,802.2 950.8,801.4 952.4,800.5 953.9,799.7 955.5,798.9 957.1,798.0 958.6,797.2 960.2,796.4 961.8,795.5 963.3,794.7 964.9,793.8 966.5,793.0 968.0,792.1 969.6,791.3 971.1,790.4 972.7,789.6 974.3,788.7 975.8,787.9 977.4,787.0 979.0,786.1 980.5,785.2 982.1,784.4 983.6,783.5 985.2,782.6 986.8,781.7 988.3,780.8 989.9,779.9 991.5,779.0 993.0,778.1 994.6,777.1 996.2,776.2 997.7,775.3 999.3,774.4 1000.8,773.4 1002.4,772.5 1004.0,771.6 1005.5,770.6 1007.1,769.7 1008.7,768.7 1010.2,767.8 1011.8,766.9 1013.3,765.9 1014.9,765.0 1016.5,764.0 1018.0,763.0 1019.6,762.1 1021.2,761.1 1022.7,760.2 1024.3,759.2 1025.9,758.2 1027.4,757.2 1029.0,756.3 1030.5,755.3 1032.1,754.3 1033.7,753.3 1035.2,752.4 1036.8,751.4 1038.4,750.4 1039.9,749.4 1041.5,748.4 1043.0,747.4 1044.6,746.4 1046.2,745.4 1047.7,744.4 1049.3,743.4 1050.9,742.4 1052.4,741.4 1054.0,740.4 1055.6,739.4 1057.1,738.4 1058.7,737.4 1060.2,736.4 1061.8,735.4 1063.4,734.3 1064.9,733.3 1066.5,732.3 1068.1,731.3 1069.6,730.3 1071.2,729.3 1072.7,728.3 1074.3,727.3 1075.9,726.2 1077.4,725.2 1079.0,724.2 1080.6,723.2 1082.1,722.1 1083.7,721.1 1085.3,720.1 1086.8,719.1 1088.4,718.0 1089.9,717.0 1091.5,715.9 1093.1,714.9 1094.6,713.9 1096.2,712.8 1097.8,711.8 1099.3,710.7 1100.9,709.6 1102.4,708.6 1104.0,707.5 1105.6,706.5 1107.1,705.4 1108.7,704.3 1110.3,703.2 1111.8,702.1 1113.4,701.1 1115.0,700.0 1116.5,698.9 1118.1,697.8 1119.6,696.7 1121.2,695.5 1122.8,694.4 1124.3,693.3 1125.9,692.2 1127.5,691.1 1129.0,689.9 1130.6,688.8 1132.1,687.6 1133.7,686.5 1135.3,685.3 1136.8,684.1 1138.4,682.9 1140.0,681.7 1141.5,680.5 1143.1,679.3 1144.7,678.1 1146.2,676.9 1147.8,675.7 1149.3,674.4 1150.9,673.2 1152.5,672.0 1154.0,670.7 1155.6,669.5 1157.2,668.2 1158.7,667.0 1160.3,665.7 1161.9,664.5 1163.4,663.2 1165.0,661.9 1166.5,660.7 1168.1,659.4 1169.7,658.1 1171.2,656.9 1172.8,655.6 1174.4,654.4 1175.9,653.1 1177.5,651.8 1179.0,650.6 1180.6,649.3 1182.2,648.1 1183.7,646.8 1185.3,645.6 1186.9,644.3 1188.4,643.1" fill="none" stroke="none" marker-start="url(#m5)" marker-mid="url(#m5)" marker-end="url(#m5)"/>
<marker id="m6" markerWidth="12" markerHeight="11" refX="6" refY="6.3" markerUnits="userSpaceOnUse" orient="0"><path d="M1 9.9L6 1L11 9.9Z" fill="#fff" stroke="#1E9CE8" stroke-width="0.9"/></marker>
<polyline points="838.9,944.7 840.4,940.8 842.0,936.8 843.5,932.8 845.1,928.8 846.7,924.9 848.2,921.0 849.8,917.3 851.4,913.6 852.9,910.1 854.5,906.6 856.0,903.2 857.6,899.9 859.2,896.7 860.7,893.5 862.3,890.5 863.9,887.6 865.4,884.7 867.0,882.0 868.6,879.3 870.1,876.7 871.7,874.3 873.2,872.2 874.8,870.3 876.4,868.7 877.9,867.3 879.5,866.2 881.1,865.2 882.6,864.3 884.2,863.5 885.8,862.8 887.3,862.1 888.9,861.4 890.4,860.7 892.0,859.9 893.6,859.1 895.1,858.4 896.7,857.7 898.3,857.1 899.8,856.4 901.4,855.8 902.9,855.1 904.5,854.5 906.1,853.9 907.6,853.3 909.2,852.6 910.8,852.0 912.3,851.3 913.9,850.6 915.5,849.9 917.0,849.1 918.6,848.4 920.1,847.6 921.7,846.9 923.3,846.1 924.8,845.3 926.4,844.6 928.0,843.8 929.5,843.0 931.1,842.2 932.6,841.4 934.2,840.6 935.8,839.8 937.3,839.0 938.9,838.2 940.5,837.4 942.0,836.5 943.6,835.7 945.2,834.9 946.7,834.1 948.3,833.2 949.8,832.4 951.4,831.6 953.0,830.7 954.5,829.9 956.1,829.0 957.7,828.2 959.2,827.3 960.8,826.5 962.3,825.6 963.9,824.7 965.5,823.9 967.0,823.0 968.6,822.1 970.2,821.2 971.7,820.3 973.3,819.4 974.9,818.5 976.4,817.6 978.0,816.8 979.5,815.9 981.1,815.0 982.7,814.1 984.2,813.2 985.8,812.3 987.4,811.5 988.9,810.6 990.5,809.7 992.0,808.9 993.6,808.0 995.2,807.2 996.7,806.3 998.3,805.5 999.9,804.6 1001.4,803.8 1003.0,802.9 1004.6,802.1 1006.1,801.3 1007.7,800.4 1009.2,799.6 1010.8,798.7 1012.4,797.9 1013.9,797.1 1015.5,796.2 1017.1,795.4 1018.6,794.6 1020.2,793.7 1021.7,792.9 1023.3,792.0 1024.9,791.2 1026.4,790.3 1028.0,789.5 1029.6,788.6 1031.1,787.8 1032.7,786.9 1034.3,786.1 1035.8,785.2 1037.4,784.3 1038.9,783.4 1040.5,782.6 1042.1,781.7 1043.6,780.8 1045.2,779.9 1046.8,779.0 1048.3,778.1 1049.9,777.2 1051.4,776.3 1053.0,775.4 1054.6,774.5 1056.1,773.6 1057.7,772.7 1059.3,771.8 1060.8,770.9 1062.4,770.0 1064.0,769.1 1065.5,768.2 1067.1,767.2 1068.6,766.3 1070.2,765.4 1071.8,764.5 1073.3,763.6 1074.9,762.7 1076.5,761.7 1078.0,760.8 1079.6,759.9 1081.2,759.0 1082.7,758.1 1084.3,757.1 1085.8,756.2 1087.4,755.3 1089.0,754.4 1090.5,753.4 1092.1,752.5 1093.7,751.6 1095.2,750.7 1096.8,749.8 1098.3,748.8 1099.9,747.9 1101.5,747.0 1103.0,746.1 1104.6,745.2 1106.2,744.3 1107.7,743.4 1109.3,742.5 1110.9,741.5 1112.4,740.6 1114.0,739.7 1115.5,738.8 1117.1,737.9 1118.7,737.0 1120.2,736.1 1121.8,735.2 1123.4,734.3 1124.9,733.4 1126.5,732.5 1128.0,731.6 1129.6,730.7 1131.2,729.8 1132.7,728.9 1134.3,728.0 1135.9,727.1 1137.4,726.2 1139.0,725.3 1140.6,724.4 1142.1,723.5 1143.7,722.6 1145.2,721.7 1146.8,720.8 1148.4,719.9 1149.9,718.9 1151.5,718.0 1153.1,717.1 1154.6,716.2 1156.2,715.3 1157.7,714.4 1159.3,713.5 1160.9,712.6 1162.4,711.7 1164.0,710.8 1165.6,709.9 1167.1,709.0 1168.7,708.1 1170.3,707.2 1171.8,706.3 1173.4,705.4 1174.9,704.5 1176.5,703.6 1178.1,702.7 1179.6,701.8 1181.2,700.9 1182.8,700.0 1184.3,699.1 1185.9,698.2 1188.6,705.0" fill="none" stroke="none" marker-start="url(#m6)" marker-mid="url(#m6)" marker-end="url(#m6)"/>
<marker id="m7" markerWidth="12" markerHeight="11" refX="6" refY="6.3" markerUnits="userSpaceOnUse" orient="0"><path d="M1 9.9L6 1L11 9.9Z" fill="#fff" stroke="#00F0F0" stroke-width="0.9"/></marker>
<polyline points="838.9,944.7 840.4,941.0 842.0,937.2 843.5,933.4 845.1,929.7 846.7,926.0 848.2,922.4 849.8,919.0 851.4,915.5 852.9,912.2 854.5,908.8 856.0,905.6 857.6,902.5 859.2,899.5 860.7,896.7 862.3,894.0 863.9,891.3 865.4,888.9 867.0,886.6 868.6,884.5 870.1,882.7 871.7,881.1 873.2,879.7 874.8,878.4 876.4,877.3 877.9,876.4 879.5,875.5 881.1,874.6 882.6,873.8 884.2,873.0 885.8,872.2 887.3,871.3 888.9,870.5 890.4,869.7 892.0,869.0 893.6,868.3 895.1,867.6 896.7,866.9 898.3,866.2 899.8,865.6 901.4,865.0 902.9,864.3 904.5,863.7 906.1,863.1 907.6,862.5 909.2,861.9 910.8,861.3 912.3,860.7 913.9,860.0 915.5,859.4 917.0,858.7 918.6,858.1 920.1,857.4 921.7,856.7 923.3,856.0 924.8,855.4 926.4,854.7 928.0,854.0 929.5,853.4 931.1,852.7 932.6,852.0 934.2,851.4 935.8,850.7 937.3,850.1 938.9,849.4 940.5,848.8 942.0,848.2 943.6,847.6 945.2,847.0 946.7,846.4 948.3,845.8 949.8,845.2 951.4,844.7 953.0,844.2 954.5,843.6 956.1,843.1 957.7,842.7 959.2,842.2 960.8,841.8 962.3,841.4 963.9,841.0 965.5,840.6 967.0,840.3 968.6,839.9 970.2,839.6 971.7,839.2 973.3,838.9 974.9,838.5 976.4,838.1 978.0,837.8 979.5,837.4 981.1,837.0 982.7,836.6 984.2,836.2 985.8,835.8 987.4,835.4 988.9,835.1 990.5,834.7 992.0,834.3 993.6,834.0 995.2,833.6 996.7,833.2 998.3,832.8 999.9,832.4 1001.4,831.9 1003.0,831.4 1004.6,830.9 1006.1,830.2 1007.7,829.6 1009.2,828.9 1010.8,828.1 1012.4,827.2 1013.9,826.4 1015.5,825.4 1017.1,824.5 1018.6,823.5 1020.2,822.5 1021.7,821.4 1023.3,820.4 1024.9,819.3 1026.4,818.2 1028.0,817.1 1029.6,815.9 1031.1,814.8 1032.7,813.7 1034.3,812.5 1035.8,811.4 1037.4,810.3 1038.9,809.2 1040.5,808.0 1042.1,807.0 1043.6,805.9 1045.2,804.8 1046.8,803.7 1048.3,802.7 1049.9,801.6 1051.4,800.5 1053.0,799.4 1054.6,798.4 1056.1,797.3 1057.7,796.2 1059.3,795.1 1060.8,794.0 1062.4,792.9 1064.0,791.8 1065.5,790.7 1067.1,789.6 1068.6,788.4 1070.2,787.3 1071.8,786.2 1073.3,785.0 1074.9,783.8 1076.5,782.7 1078.0,781.5 1079.6,780.3 1081.2,779.1 1082.7,777.9 1084.3,776.7 1085.8,775.4 1087.4,774.2 1089.0,772.9 1090.5,771.7 1092.1,770.4 1093.7,769.1 1095.2,767.8 1096.8,766.5 1098.3,765.2 1099.9,763.9 1101.5,762.6 1103.0,761.3 1104.6,760.0 1106.2,758.7 1107.7,757.4 1109.3,756.0 1110.9,754.7 1112.4,753.4 1114.0,752.0 1115.5,750.7 1117.1,749.4 1118.7,748.0 1120.2,746.7 1121.8,745.4 1123.4,744.0 1124.9,742.7 1126.5,741.4 1128.0,740.0 1129.6,738.7 1131.2,737.4 1132.7,736.1 1134.3,734.8 1135.9,733.4 1310.7,943.6" fill="none" stroke="none" marker-start="url(#m7)" marker-mid="url(#m7)" marker-end="url(#m7)"/>
<marker id="m8" markerWidth="12" markerHeight="11" refX="6" refY="6.3" markerUnits="userSpaceOnUse" orient="0"><path d="M1 9.9L6 1L11 9.9Z" fill="#fff" stroke="#7E1010" stroke-width="0.9"/></marker>
<polyline points="840.8,944.7 842.4,941.6 843.9,938.4 845.5,935.3 847.1,932.1 848.6,929.0 850.2,926.1 851.8,923.3 853.3,920.7 854.9,918.2 856.4,915.8 858.0,913.4 859.6,911.2 861.1,909.0 862.7,906.8 864.3,904.7 865.8,902.7 867.4,900.7 868.9,898.8 870.5,897.0 872.1,895.3 873.6,893.7 875.2,892.3 876.8,890.9 878.3,889.7 879.9,888.6 881.5,887.5 883.0,886.5 884.6,885.5 886.1,884.6 887.7,883.7 889.3,882.9 890.8,882.0 892.4,881.1 894.0,880.3 895.5,879.4 897.1,878.5 898.6,877.6 900.2,876.8 901.8,875.9 903.3,875.1 904.9,874.3 906.5,873.5 908.0,872.7 909.6,871.9 911.2,871.1 912.7,870.3 914.3,869.5 915.8,868.7 917.4,868.0 919.0,867.2 920.5,866.4 922.1,865.7 923.7,864.9 925.2,864.2 926.8,863.4 928.3,862.6 929.9,861.9 931.5,861.1 933.0,860.3 934.6,859.5 936.2,858.8 937.7,858.0 939.3,857.2 940.9,856.4 942.4,855.6 944.0,854.8 945.5,854.0 947.1,853.2 948.7,852.4 950.2,851.7 951.8,850.9 953.4,850.1 954.9,849.3 956.5,848.5 958.0,847.7 959.6,846.9 961.2,846.1 962.7,845.4 964.3,844.6 965.9,843.8 967.4,843.0 969.0,842.3 970.6,841.5 972.1,840.7 973.7,840.0 975.2,839.2 976.8,838.5 978.4,837.7 979.9,837.0 981.5,836.2 983.1,835.5 984.6,834.8 986.2,834.1 987.7,833.3 989.3,832.6 990.9,831.9 992.4,831.2 994.0,830.5 995.6,829.9 997.1,829.2 998.7,828.5 1000.3,827.8 1001.8,827.2 1003.4,826.5 1004.9,825.8 1006.5,825.2 1008.1,824.5 1009.6,823.9 1011.2,823.3 1012.8,822.6 1014.3,822.0 1015.9,821.3 1017.4,820.7 1019.0,820.1 1020.6,819.5 1022.1,818.8 1023.7,818.2 1025.3,817.6 1026.8,817.0 1028.4,816.4 1030.0,815.7 1031.5,815.1 1033.1,814.5 1034.6,813.9 1036.2,813.2 1037.8,812.6 1039.3,812.0 1040.9,811.4 1042.5,810.8 1044.0,810.1 1045.6,809.5 1047.2,808.9 1048.7,808.2 1050.3,807.6 1051.8,807.0 1053.4,806.3 1055.0,805.7 1056.5,805.0 1058.1,804.4 1059.7,803.7 1061.2,803.1 1062.8,802.4 1064.3,801.8 1065.9,801.1 1067.5,800.5 1069.0,799.8 1070.6,799.2 1072.2,798.5 1073.7,797.9 1075.3,797.2 1076.9,796.6 1078.4,795.9 1080.0,795.3 1081.5,794.6 1083.1,794.0 1084.7,793.4 1086.2,792.7 1087.8,792.1 1089.4,791.5 1090.9,790.8 1092.5,790.2 1094.0,789.6 1095.6,789.0 1097.2,788.4 1098.7,787.7 1100.3,787.1 1101.9,786.5 1103.4,785.9 1105.0,785.4 1106.6,784.8 1108.1,784.2 1109.7,783.6 1111.2,783.0 1112.8,782.5 1114.4,781.9 1115.9,781.4 1117.5,780.8 1119.1,780.2 1120.6,779.7 1122.2,779.1 1123.7,778.6 1125.3,778.0 1126.9,777.5 1128.4,776.9 1130.0,776.4 1131.6,775.8 1133.1,775.3 1134.7,774.7 1136.3,774.2 1137.8,773.6 1139.4,773.0 1141.7,777.5" fill="none" stroke="none" marker-start="url(#m8)" marker-mid="url(#m8)" marker-end="url(#m8)"/>
<marker id="m9" markerWidth="12" markerHeight="11" refX="6" refY="6.3" markerUnits="userSpaceOnUse" orient="0"><path d="M1 9.9L6 1L11 9.9Z" fill="#fff" stroke="#F0148C" stroke-width="0.9"/></marker>
<polyline points="841.8,944.7 843.3,939.5 844.9,934.2 846.5,929.0 848.0,923.7 849.6,918.5 851.2,913.3 852.7,908.2 854.3,903.2 855.9,898.1 857.4,893.0 859.0,887.8 860.5,882.4 862.1,876.7 863.7,870.8 865.2,865.1 866.8,859.7 868.4,854.9 869.9,850.5 871.5,846.3 873.0,842.3 874.6,838.4 876.2,834.5 877.7,830.7 879.3,827.0 880.9,823.5 882.4,820.3 884.0,817.5 885.6,815.1 887.1,812.9 888.7,811.1 890.2,809.6 891.8,808.4 893.4,807.5 894.9,806.8 896.5,806.2 898.1,805.7 899.6,805.2 901.2,804.5 902.7,804.0 904.3,803.4 905.9,802.9 907.4,802.4 909.0,801.9 910.6,801.5 912.1,801.0 913.7,800.5 915.3,800.1 916.8,799.6 918.4,799.1 919.9,798.7 921.5,798.2 923.1,797.7 924.6,797.3 926.2,796.8 927.8,796.4 929.3,795.9 930.9,795.5 932.5,795.0 934.0,794.5 935.6,794.1 937.1,793.6 938.7,793.1 940.3,792.7 941.8,792.2 943.4,791.8 945.0,791.4 946.5,790.9 948.1,790.5 949.6,790.0 951.2,789.6 952.8,789.1 954.3,788.6 955.9,788.1 957.5,787.6 959.0,787.1 960.6,786.5 962.2,785.9 963.7,785.3 965.3,784.7 966.8,784.1 968.4,783.4 970.0,782.7 971.5,782.1 973.1,781.4 974.7,780.6 976.2,779.9 977.8,779.2 979.3,778.4 980.9,777.7 982.5,776.9 984.0,776.1 985.6,775.3 987.2,774.5 988.7,773.7 990.3,772.9 991.9,772.1 993.4,771.2 995.0,770.4 996.5,769.5 998.1,768.7 999.7,767.8 1001.2,766.9 1002.8,766.1 1004.4,765.2 1005.9,764.3 1007.5,763.4 1009.0,762.5 1010.6,761.6 1012.2,760.6 1013.7,759.7 1015.3,758.8 1016.9,757.8 1018.4,756.8 1020.0,755.9 1021.6,754.9 1023.1,753.9 1024.7,753.0 1026.2,752.0 1027.8,751.0 1029.4,750.0 1030.9,749.0 1032.5,748.0 1034.1,747.0 1035.6,746.0 1037.2,745.0 1038.7,743.9 1040.3,742.9 1041.9,741.9 1043.4,740.9 1045.0,739.9 1046.6,738.9 1048.1,737.9 1049.7,736.9 1051.3,735.8 1052.8,734.8 1054.4,733.8 1055.9,732.8 1057.5,731.8 1059.1,730.8 1060.6,729.8 1062.2,728.7 1063.8,727.7 1065.3,726.7 1066.9,725.6 1068.4,724.6 1070.0,723.6 1071.6,722.5 1073.1,721.5 1074.7,720.5 1076.3,719.4 1077.8,718.4 1079.4,717.3 1081.0,716.3 1082.5,715.2 1084.1,714.2 1085.6,713.2 1087.2,712.1 1088.8,711.1 1090.3,710.0 1091.9,709.0 1093.5,707.9 1095.0,706.9 1096.6,705.8 1098.1,704.8 1099.7,703.7 1101.3,702.7 1102.8,701.6 1104.4,700.6 1106.0,699.6 1107.5,698.5 1109.1,697.5 1110.7,696.4 1112.2,695.4 1113.8,694.4 1115.3,693.3 1116.9,692.3 1118.5,691.2 1120.0,690.2 1121.6,689.1 1123.2,688.1 1124.7,687.0 1126.3,686.0 1127.9,684.9 1129.4,683.9 1131.0,682.8 1132.5,681.8 1134.1,680.8 1135.7,679.7 1137.2,678.7 1138.8,677.6 1140.4,676.6 1141.9,675.5 1143.5,674.5 1145.0,673.4 1146.6,672.4 1148.2,671.4 1149.7,670.3 1151.3,669.3 1152.9,668.2 1154.4,667.2 1156.0,666.2 1157.6,665.2 1159.1,664.1 1160.7,663.1 1162.2,662.1 1163.8,661.1 1165.4,660.1 1166.9,659.0 1168.5,658.0 1170.1,657.0 1171.6,656.0 1173.2,655.0 1174.7,654.0 1176.3,653.0 1177.9,652.1 1179.4,651.1 1181.0,650.1 1182.6,649.1 1184.1,648.1 1185.7,647.1 1187.3,646.2 1188.8,645.2 1190.4,644.2 1191.9,643.3 1193.5,642.3 1195.1,641.3 1196.6,640.3 1198.2,639.4 1199.8,638.4 1201.3,637.5 1202.9,636.5 1204.4,635.5 1206.0,634.6 1207.6,633.6 1209.1,632.6 1210.7,631.7 1212.3,630.7 1213.8,629.8 1215.4,628.8 1217.0,627.8 1218.5,626.9 1220.1,625.9 1221.6,624.9 1223.2,624.0 1224.8,623.0 1226.3,622.0 1227.9,621.1 1229.5,620.1 1231.0,619.1 1237.5,629.3" fill="none" stroke="none" marker-start="url(#m9)" marker-mid="url(#m9)" marker-end="url(#m9)"/>
<rect x="836.9" y="551.0" width="488.5" height="393.7" fill="none" stroke="#000" stroke-width="2.4" />
<text x="825.9" y="953.3" font-size="24" text-anchor="end" stroke="#000" stroke-width="0.4">0</text>
<line x1="836.9" y1="871.1" x2="844.9" y2="871.1" stroke="#000" stroke-width="2.2" />
<text x="825.9" y="879.7" font-size="24" text-anchor="end" stroke="#000" stroke-width="0.4">70</text>
<line x1="836.9" y1="797.5" x2="844.9" y2="797.5" stroke="#000" stroke-width="2.2" />
<text x="825.9" y="806.1" font-size="24" text-anchor="end" stroke="#000" stroke-width="0.4">140</text>
<line x1="836.9" y1="723.9" x2="844.9" y2="723.9" stroke="#000" stroke-width="2.2" />
<text x="825.9" y="732.5" font-size="24" text-anchor="end" stroke="#000" stroke-width="0.4">210</text>
<line x1="836.9" y1="650.3" x2="844.9" y2="650.3" stroke="#000" stroke-width="2.2" />
<text x="825.9" y="658.9" font-size="24" text-anchor="end" stroke="#000" stroke-width="0.4">280</text>
<line x1="836.9" y1="576.7" x2="844.9" y2="576.7" stroke="#000" stroke-width="2.2" />
<text x="825.9" y="585.3" font-size="24" text-anchor="end" stroke="#000" stroke-width="0.4">350</text>
<text x="836.9" y="974.3" font-size="24" text-anchor="middle" stroke="#000" stroke-width="0.4">0</text>
<line x1="934.6" y1="944.7" x2="934.6" y2="936.7" stroke="#000" stroke-width="2.2" />
<text x="934.6" y="974.3" font-size="24" text-anchor="middle" stroke="#000" stroke-width="0.4">10</text>
<line x1="1032.3" y1="944.7" x2="1032.3" y2="936.7" stroke="#000" stroke-width="2.2" />
<text x="1032.3" y="974.3" font-size="24" text-anchor="middle" stroke="#000" stroke-width="0.4">20</text>
<line x1="1130.0" y1="944.7" x2="1130.0" y2="936.7" stroke="#000" stroke-width="2.2" />
<text x="1130.0" y="974.3" font-size="24" text-anchor="middle" stroke="#000" stroke-width="0.4">30</text>
<line x1="1227.7" y1="944.7" x2="1227.7" y2="936.7" stroke="#000" stroke-width="2.2" />
<text x="1227.7" y="974.3" font-size="24" text-anchor="middle" stroke="#000" stroke-width="0.4">40</text>
<text x="1325.4" y="974.3" font-size="24" text-anchor="middle" stroke="#000" stroke-width="0.4">50</text>
<text x="1010.0" y="1002.5" font-size="32" textLength="143.0" lengthAdjust="spacingAndGlyphs" stroke="#000" stroke-width="0.4">Strain (%)</text>
<text x="768.0" y="832.0" font-size="32" textLength="189.0" lengthAdjust="spacingAndGlyphs" transform="rotate(-90 768.0 832.0)" stroke="#000" stroke-width="0.4">Stress (MPa)</text>
<line x1="858.0" y1="569.5" x2="889.0" y2="569.5" stroke="#000" stroke-width="2.2" stroke-dasharray="9 3 2.5 3"/>
<text x="898.0" y="577.8" font-size="25.2" textLength="88.0" lengthAdjust="spacingAndGlyphs" stroke="#000" stroke-width="0.4">Original</text>
<line x1="858.0" y1="599.0" x2="889.0" y2="599.0" stroke="#E8A838" stroke-width="2.2" stroke-dasharray="4.5 2.4"/>
<text x="901.0" y="607.3" font-size="25.2" textLength="59.0" lengthAdjust="spacingAndGlyphs" stroke="#000" stroke-width="0.4">pH=7</text>
<line x1="858.0" y1="625.0" x2="889.0" y2="625.0" stroke="#1E9CE8" stroke-width="2.2" stroke-dasharray="4.5 2.4"/>
<text x="901.0" y="633.3" font-size="25.2" textLength="59.0" lengthAdjust="spacingAndGlyphs" stroke="#000" stroke-width="0.4">pH=5</text>
<line x1="858.0" y1="652.0" x2="889.0" y2="652.0" stroke="#00F0F0" stroke-width="2.2" stroke-dasharray="4.5 2.4"/>
<text x="901.0" y="660.3" font-size="25.2" textLength="59.0" lengthAdjust="spacingAndGlyphs" stroke="#000" stroke-width="0.4">pH=3</text>
<line x1="858.0" y1="677.5" x2="889.0" y2="677.5" stroke="#7E1010" stroke-width="2.2" stroke-dasharray="4.5 2.4"/>
<text x="901.0" y="685.8" font-size="25.2" textLength="59.0" lengthAdjust="spacingAndGlyphs" stroke="#000" stroke-width="0.4">pH=1</text>
<line x1="858.0" y1="700.5" x2="889.0" y2="700.5" stroke="#F0148C" stroke-width="2.2" stroke-dasharray="4.5 2.4"/>
<text x="899.0" y="708.8" font-size="25.2" textLength="184.0" lengthAdjust="spacingAndGlyphs" stroke="#000" stroke-width="0.4">pH=8 recovered</text>
<line x1="1254.0" y1="640.0" x2="1163.1" y2="781.4" stroke="#FFB400" stroke-width="4.2" stroke-dasharray="10.5 4.5"/>
<polygon points="1155.0,794.0 1159.1,776.5 1169.2,782.9" fill="#FFB400"/>
<line x1="1041.0" y1="872.0" x2="975.9" y2="797.3" stroke="#00A550" stroke-width="4.2" stroke-dasharray="10.5 4.5"/>
<polygon points="966.0,786.0 981.7,794.9 972.7,802.8" fill="#00A550"/>
<text x="937.0" y="921.0" font-size="31" textLength="220.0" lengthAdjust="spacingAndGlyphs" stroke="#000" stroke-width="0.4">pH=8 recovered</text>
<text x="1256.0" y="584.0" font-size="31" textLength="192.0" lengthAdjust="spacingAndGlyphs" transform="rotate(83 1256.0 584.0)" stroke="#000" stroke-width="0.4">pH decreases</text>
<text x="753.5" y="516.0" font-size="44" font-weight="bold">e</text>
<rect x="1459.2" y="215.5" width="52.2" height="225.0" fill="#C00000" stroke="#000" stroke-width="1" />
<rect x="1511.4" y="227.4" width="52.2" height="213.1" fill="#203864" stroke="#000" stroke-width="1" />
<rect x="1616.5" y="288.0" width="52.2" height="152.5" fill="#C00000" stroke="#000" stroke-width="1" />
<rect x="1668.7" y="337.8" width="52.2" height="102.7" fill="#203864" stroke="#000" stroke-width="1" />
<rect x="1773.4" y="231.0" width="52.2" height="209.5" fill="#C00000" stroke="#000" stroke-width="1" />
<rect x="1825.6" y="217.4" width="52.2" height="223.1" fill="#203864" stroke="#000" stroke-width="1" />
<line x1="1486.0" y1="181.7" x2="1486.0" y2="247.1" stroke="#000" stroke-width="2.6" />
<line x1="1479.5" y1="181.7" x2="1492.5" y2="181.7" stroke="#000" stroke-width="2.6" />
<line x1="1479.5" y1="247.1" x2="1492.5" y2="247.1" stroke="#000" stroke-width="2.6" />
<line x1="1537.4" y1="178.7" x2="1537.4" y2="275.7" stroke="#000" stroke-width="4.2" />
<line x1="1524.9" y1="178.7" x2="1549.9" y2="178.7" stroke="#000" stroke-width="4.2" />
<line x1="1524.9" y1="275.7" x2="1549.9" y2="275.7" stroke="#000" stroke-width="4.2" />
<line x1="1641.8" y1="265.4" x2="1641.8" y2="310.3" stroke="#000" stroke-width="2.6" />
<line x1="1635.3" y1="265.4" x2="1648.3" y2="265.4" stroke="#000" stroke-width="2.6" />
<line x1="1635.3" y1="310.3" x2="1648.3" y2="310.3" stroke="#000" stroke-width="2.6" />
<line x1="1694.8" y1="295.2" x2="1694.8" y2="378.9" stroke="#000" stroke-width="4.2" />
<line x1="1682.3" y1="295.2" x2="1707.3" y2="295.2" stroke="#000" stroke-width="4.2" />
<line x1="1682.3" y1="378.9" x2="1707.3" y2="378.9" stroke="#000" stroke-width="4.2" />
<line x1="1799.5" y1="210.0" x2="1799.5" y2="236.0" stroke="#000" stroke-width="2.6" />
<line x1="1794.5" y1="210.0" x2="1804.5" y2="210.0" stroke="#000" stroke-width="2.6" />
<line x1="1794.5" y1="236.0" x2="1804.5" y2="236.0" stroke="#000" stroke-width="2.6" />
<line x1="1852.4" y1="162.8" x2="1852.4" y2="271.1" stroke="#000" stroke-width="4.2" />
<line x1="1839.9" y1="162.8" x2="1864.9" y2="162.8" stroke="#000" stroke-width="4.2" />
<line x1="1839.9" y1="271.1" x2="1864.9" y2="271.1" stroke="#000" stroke-width="4.2" />
<path d="M1482.2 130.5h7.6M1486.0 126.7v7.6M1482.2 169.6h7.6M1486.0 165.8v7.6M1482.2 183.4h7.6M1486.0 179.6v7.6M1491.7 184.1h7.6M1495.5 180.3v7.6M1472.7 186.5h7.6M1476.5 182.7v7.6M1501.2 188.6h7.6M1505.0 184.8v7.6M1482.2 193.6h7.6M1486.0 189.8v7.6M1491.7 199.8h7.6M1495.5 196.0v7.6M1482.2 201.9h7.6M1486.0 198.1v7.6M1472.7 202.9h7.6M1476.5 199.1v7.6M1501.2 203.2h7.6M1505.0 199.4v7.6M1463.2 203.3h7.6M1467.0 199.5v7.6M1463.9 203.6h7.6M1467.7 199.8v7.6M1466.1 205.6h7.6M1469.9 201.8v7.6M1465.5 206.5h7.6M1469.3 202.7v7.6M1478.4 206.5h7.6M1482.2 202.7v7.6M1491.7 208.9h7.6M1495.5 205.1v7.6M1474.5 208.9h7.6M1478.3 205.1v7.6M1486.7 210.5h7.6M1490.5 206.7v7.6M1461.5 210.5h7.6M1465.3 206.7v7.6M1501.2 212.3h7.6M1505.0 208.5v7.6M1482.2 218.7h7.6M1486.0 214.9v7.6M1491.7 220.4h7.6M1495.5 216.6v7.6M1472.7 223.4h7.6M1476.5 219.6v7.6M1501.2 223.8h7.6M1505.0 220.0v7.6M1463.2 224.6h7.6M1467.0 220.8v7.6M1471.9 226.2h7.6M1475.7 222.4v7.6M1482.2 227.1h7.6M1486.0 223.3v7.6M1491.7 229.9h7.6M1495.5 226.1v7.6M1503.4 230.5h7.6M1507.2 226.7v7.6M1466.3 232.0h7.6M1470.1 228.2v7.6M1482.2 234.8h7.6M1486.0 231.0v7.6M1461.0 235.4h7.6M1464.8 231.6v7.6M1464.4 235.9h7.6M1468.2 232.1v7.6M1491.7 238.1h7.6M1495.5 234.3v7.6M1501.2 242.3h7.6M1505.0 238.5v7.6M1482.2 243.4h7.6M1486.0 239.6v7.6M1472.7 244.1h7.6M1476.5 240.3v7.6M1482.2 263.9h7.6M1486.0 260.1v7.6M1491.7 264.6h7.6M1495.5 260.8v7.6M1472.7 266.1h7.6M1476.5 262.3v7.6M1533.7 128.1h7.6M1537.5 124.3v7.6M1533.7 155.1h7.6M1537.5 151.3v7.6M1533.7 166.2h7.6M1537.5 162.4v7.6M1533.7 181.6h7.6M1537.5 177.8v7.6M1533.7 192.8h7.6M1537.5 189.0v7.6M1543.2 196.9h7.6M1547.0 193.1v7.6M1524.2 197.5h7.6M1528.0 193.7v7.6M1533.7 203.5h7.6M1537.5 199.7v7.6M1552.7 203.7h7.6M1556.5 199.9v7.6M1543.2 205.7h7.6M1547.0 201.9v7.6M1524.2 205.8h7.6M1528.0 202.0v7.6M1514.7 206.8h7.6M1518.5 203.0v7.6M1540.2 206.9h7.6M1544.0 203.1v7.6M1538.6 210.6h7.6M1542.4 206.8v7.6M1524.2 213.5h7.6M1528.0 209.7v7.6M1552.7 214.5h7.6M1556.5 210.7v7.6M1533.7 230.0h7.6M1537.5 226.2v7.6M1543.2 231.2h7.6M1547.0 227.4v7.6M1524.2 231.9h7.6M1528.0 228.1v7.6M1552.7 231.9h7.6M1556.5 228.1v7.6M1514.7 235.5h7.6M1518.5 231.7v7.6M1533.7 238.9h7.6M1537.5 235.1v7.6M1543.2 241.8h7.6M1547.0 238.0v7.6M1524.2 245.3h7.6M1528.0 241.5v7.6M1533.7 246.8h7.6M1537.5 243.0v7.6M1552.7 248.5h7.6M1556.5 244.7v7.6M1514.7 248.6h7.6M1518.5 244.8v7.6M1543.2 249.6h7.6M1547.0 245.8v7.6M1524.2 254.0h7.6M1528.0 250.2v7.6M1533.7 264.2h7.6M1537.5 260.4v7.6M1543.2 265.1h7.6M1547.0 261.3v7.6M1524.2 265.7h7.6M1528.0 261.9v7.6M1533.7 282.5h7.6M1537.5 278.7v7.6M1543.2 283.2h7.6M1547.0 279.4v7.6M1524.2 288.7h7.6M1528.0 284.9v7.6M1533.7 290.4h7.6M1537.5 286.6v7.6M1543.2 292.9h7.6M1547.0 289.1v7.6M1533.7 305.7h7.6M1537.5 301.9v7.6M1533.7 337.2h7.6M1537.5 333.4v7.6M1533.7 364.2h7.6M1537.5 360.4v7.6M1638.2 247.0h7.6M1642.0 243.2v7.6M1647.7 251.9h7.6M1651.5 248.1v7.6M1638.2 260.8h7.6M1642.0 257.0v7.6M1647.7 262.7h7.6M1651.5 258.9v7.6M1628.7 266.0h7.6M1632.5 262.2v7.6M1657.2 266.4h7.6M1661.0 262.6v7.6M1638.2 268.7h7.6M1642.0 264.9v7.6M1647.7 275.3h7.6M1651.5 271.5v7.6M1628.7 276.3h7.6M1632.5 272.5v7.6M1638.2 276.4h7.6M1642.0 272.6v7.6M1657.2 277.7h7.6M1661.0 273.9v7.6M1619.2 278.0h7.6M1623.0 274.2v7.6M1639.5 278.2h7.6M1643.3 274.4v7.6M1635.0 279.4h7.6M1638.8 275.6v7.6M1653.9 281.2h7.6M1657.7 277.4v7.6M1615.5 281.9h7.6M1619.3 278.1v7.6M1628.3 282.3h7.6M1632.1 278.5v7.6M1650.9 283.3h7.6M1654.7 279.5v7.6M1626.6 283.5h7.6M1630.4 279.7v7.6M1654.2 283.9h7.6M1658.0 280.1v7.6M1657.9 284.1h7.6M1661.7 280.3v7.6M1657.3 284.2h7.6M1661.1 280.4v7.6M1653.9 284.6h7.6M1657.7 280.8v7.6M1639.7 285.1h7.6M1643.5 281.3v7.6M1656.1 285.2h7.6M1659.9 281.4v7.6M1643.4 285.8h7.6M1647.2 282.0v7.6M1622.5 286.9h7.6M1626.3 283.1v7.6M1643.9 287.7h7.6M1647.7 283.9v7.6M1640.9 287.7h7.6M1644.7 283.9v7.6M1647.0 288.2h7.6M1650.8 284.4v7.6M1651.8 288.8h7.6M1655.6 285.0v7.6M1656.6 288.8h7.6M1660.4 285.0v7.6M1626.1 291.6h7.6M1629.9 287.8v7.6M1616.2 292.4h7.6M1620.0 288.6v7.6M1638.6 293.3h7.6M1642.4 289.5v7.6M1650.7 294.5h7.6M1654.5 290.7v7.6M1635.5 295.7h7.6M1639.3 291.9v7.6M1647.5 296.9h7.6M1651.3 293.1v7.6M1638.6 297.8h7.6M1642.4 294.0v7.6M1638.6 297.9h7.6M1642.4 294.1v7.6M1647.8 297.9h7.6M1651.6 294.1v7.6M1658.5 298.6h7.6M1662.3 294.8v7.6M1619.2 301.1h7.6M1623.0 297.3v7.6M1620.8 301.7h7.6M1624.6 297.9v7.6M1633.0 302.4h7.6M1636.8 298.6v7.6M1617.7 305.3h7.6M1621.5 301.5v7.6M1647.7 307.7h7.6M1651.5 303.9v7.6M1657.2 309.1h7.6M1661.0 305.3v7.6M1638.2 322.4h7.6M1642.0 318.6v7.6M1647.7 327.3h7.6M1651.5 323.5v7.6M1691.2 258.5h7.6M1695.0 254.7v7.6M1700.7 258.5h7.6M1704.5 254.7v7.6M1681.7 258.5h7.6M1685.5 254.7v7.6M1710.2 258.5h7.6M1714.0 254.7v7.6M1691.2 294.6h7.6M1695.0 290.8v7.6M1700.7 298.3h7.6M1704.5 294.5v7.6M1691.2 302.7h7.6M1695.0 298.9v7.6M1700.7 307.2h7.6M1704.5 303.4v7.6M1681.7 308.0h7.6M1685.5 304.2v7.6M1710.2 309.1h7.6M1714.0 305.3v7.6M1691.2 316.0h7.6M1695.0 312.2v7.6M1700.7 323.4h7.6M1704.5 319.6v7.6M1691.2 327.0h7.6M1695.0 323.2v7.6M1681.7 328.5h7.6M1685.5 324.7v7.6M1710.2 329.6h7.6M1714.0 325.8v7.6M1700.7 334.1h7.6M1704.5 330.3v7.6M1691.2 335.5h7.6M1695.0 331.7v7.6M1681.7 337.9h7.6M1685.5 334.1v7.6M1710.2 340.2h7.6M1714.0 336.4v7.6M1700.7 342.9h7.6M1704.5 339.1v7.6M1691.2 346.0h7.6M1695.0 342.2v7.6M1681.7 346.9h7.6M1685.5 343.1v7.6M1710.2 350.1h7.6M1714.0 346.3v7.6M1700.7 350.5h7.6M1704.5 346.7v7.6M1672.2 351.5h7.6M1676.0 347.7v7.6M1670.4 351.6h7.6M1674.2 347.8v7.6M1689.0 351.9h7.6M1692.8 348.1v7.6M1714.9 356.1h7.6M1718.7 352.3v7.6M1691.2 360.2h7.6M1695.0 356.4v7.6M1700.7 360.6h7.6M1704.5 356.8v7.6M1681.7 365.1h7.6M1685.5 361.3v7.6M1691.2 371.7h7.6M1695.0 367.9v7.6M1691.2 381.0h7.6M1695.0 377.2v7.6M1700.7 383.5h7.6M1704.5 379.7v7.6M1691.2 398.7h7.6M1695.0 394.9v7.6M1795.7 210.9h7.6M1799.5 207.1v7.6M1795.7 218.6h7.6M1799.5 214.8v7.6M1803.7 219.2h7.6M1807.5 215.4v7.6M1787.7 219.4h7.6M1791.5 215.6v7.6M1811.7 220.0h7.6M1815.5 216.2v7.6M1779.7 222.3h7.6M1783.5 218.5v7.6M1819.7 222.4h7.6M1823.5 218.6v7.6M1771.7 222.7h7.6M1775.5 218.9v7.6M1783.4 223.0h7.6M1787.2 219.2v7.6M1782.2 223.5h7.6M1786.0 219.7v7.6M1771.8 223.6h7.6M1775.6 219.8v7.6M1775.7 223.6h7.6M1779.5 219.8v7.6M1795.8 224.2h7.6M1799.6 220.4v7.6M1803.7 225.8h7.6M1807.5 222.0v7.6M1795.9 226.0h7.6M1799.7 222.2v7.6M1811.7 226.7h7.6M1815.5 222.9v7.6M1784.4 226.7h7.6M1788.2 222.9v7.6M1778.6 226.9h7.6M1782.4 223.1v7.6M1790.6 227.6h7.6M1794.4 223.8v7.6M1786.3 227.6h7.6M1790.1 223.8v7.6M1819.7 229.0h7.6M1823.5 225.2v7.6M1799.8 229.8h7.6M1803.6 226.0v7.6M1803.3 229.8h7.6M1807.1 226.0v7.6M1808.4 230.1h7.6M1812.2 226.3v7.6M1778.9 230.4h7.6M1782.7 226.6v7.6M1773.8 230.6h7.6M1777.6 226.8v7.6M1806.9 230.9h7.6M1810.7 227.1v7.6M1815.4 231.2h7.6M1819.2 227.4v7.6M1811.4 231.4h7.6M1815.2 227.6v7.6M1775.8 231.6h7.6M1779.6 227.8v7.6M1778.1 231.6h7.6M1781.9 227.8v7.6M1817.8 231.9h7.6M1821.6 228.1v7.6M1811.8 231.9h7.6M1815.6 228.1v7.6M1801.8 232.0h7.6M1805.6 228.2v7.6M1795.2 232.0h7.6M1799.0 228.2v7.6M1793.6 232.3h7.6M1797.4 228.5v7.6M1807.6 234.0h7.6M1811.4 230.2v7.6M1803.3 234.5h7.6M1807.1 230.7v7.6M1807.5 234.7h7.6M1811.3 230.9v7.6M1783.8 234.9h7.6M1787.6 231.1v7.6M1812.3 235.2h7.6M1816.1 231.4v7.6M1806.7 235.7h7.6M1810.5 231.9v7.6M1782.8 236.8h7.6M1786.6 233.0v7.6M1795.4 237.0h7.6M1799.2 233.2v7.6M1775.4 237.8h7.6M1779.2 234.0v7.6M1819.7 238.9h7.6M1823.5 235.1v7.6M1801.3 240.7h7.6M1805.1 236.9v7.6M1795.7 248.6h7.6M1799.5 244.8v7.6M1848.7 103.5h7.6M1852.5 99.7v7.6M1848.7 120.7h7.6M1852.5 116.9v7.6M1858.2 123.2h7.6M1862.0 119.4v7.6M1848.7 133.0h7.6M1852.5 129.2v7.6M1848.7 177.1h7.6M1852.5 173.3v7.6M1858.2 180.2h7.6M1862.0 176.4v7.6M1839.2 182.8h7.6M1843.0 179.0v7.6M1867.7 184.4h7.6M1871.5 180.6v7.6M1848.7 186.6h7.6M1852.5 182.8v7.6M1858.2 191.0h7.6M1862.0 187.2v7.6M1839.2 191.8h7.6M1843.0 188.0v7.6M1867.7 193.7h7.6M1871.5 189.9v7.6M1848.7 197.0h7.6M1852.5 193.2v7.6M1858.2 204.0h7.6M1862.0 200.2v7.6M1848.7 210.4h7.6M1852.5 206.6v7.6M1839.2 211.5h7.6M1843.0 207.7v7.6M1858.2 216.7h7.6M1862.0 212.9v7.6M1867.7 217.6h7.6M1871.5 213.8v7.6M1848.7 221.7h7.6M1852.5 217.9v7.6M1858.2 224.8h7.6M1862.0 221.0v7.6M1839.2 225.4h7.6M1843.0 221.6v7.6M1867.7 227.9h7.6M1871.5 224.1v7.6M1848.7 232.9h7.6M1852.5 229.1v7.6M1858.2 235.3h7.6M1862.0 231.5v7.6M1839.2 236.4h7.6M1843.0 232.6v7.6M1867.7 236.6h7.6M1871.5 232.8v7.6M1829.7 237.8h7.6M1833.5 234.0v7.6M1842.6 239.9h7.6M1846.4 236.1v7.6M1843.4 241.3h7.6M1847.2 237.5v7.6M1842.0 241.8h7.6M1845.8 238.0v7.6M1858.2 243.2h7.6M1862.0 239.4v7.6M1867.7 244.4h7.6M1871.5 240.6v7.6M1829.7 246.7h7.6M1833.5 242.9v7.6M1829.6 248.8h7.6M1833.4 245.0v7.6M1848.7 250.5h7.6M1852.5 246.7v7.6M1858.2 252.2h7.6M1862.0 248.4v7.6M1848.7 271.5h7.6M1852.5 267.7v7.6M1848.7 282.2h7.6M1852.5 278.4v7.6M1858.2 288.0h7.6M1862.0 284.2v7.6M1839.2 288.0h7.6M1843.0 284.2v7.6" stroke="#006400" stroke-width="2.5" fill="none"/>
<path d="M1422.8 46.9H1915.0V440.5H1422.8Z" fill="none" stroke="#000" stroke-width="2.6"/>
<text x="1416.3" y="449.5" font-size="25.2" text-anchor="end" fill="#C00000" stroke="#C00000" stroke-width="0.4">160</text>
<line x1="1422.8" y1="342.1" x2="1434.8" y2="342.1" stroke="#000" stroke-width="2.4" />
<text x="1416.3" y="351.1" font-size="25.2" text-anchor="end" fill="#C00000" stroke="#C00000" stroke-width="0.4">220</text>
<line x1="1422.8" y1="243.7" x2="1434.8" y2="243.7" stroke="#000" stroke-width="2.4" />
<text x="1416.3" y="252.7" font-size="25.2" text-anchor="end" fill="#C00000" stroke="#C00000" stroke-width="0.4">280</text>
<line x1="1422.8" y1="145.3" x2="1434.8" y2="145.3" stroke="#000" stroke-width="2.4" />
<text x="1416.3" y="154.3" font-size="25.2" text-anchor="end" fill="#C00000" stroke="#C00000" stroke-width="0.4">340</text>
<text x="1416.3" y="55.9" font-size="25.2" text-anchor="end" fill="#C00000" stroke="#C00000" stroke-width="0.4">400</text>
<text x="1923.0" y="449.5" font-size="25.2" fill="#203864" stroke="#203864" stroke-width="0.4">20</text>
<line x1="1915.0" y1="342.1" x2="1903.0" y2="342.1" stroke="#000" stroke-width="2.4" />
<text x="1923.0" y="351.1" font-size="25.2" fill="#203864" stroke="#203864" stroke-width="0.4">40</text>
<line x1="1915.0" y1="243.7" x2="1903.0" y2="243.7" stroke="#000" stroke-width="2.4" />
<text x="1923.0" y="252.7" font-size="25.2" fill="#203864" stroke="#203864" stroke-width="0.4">60</text>
<line x1="1915.0" y1="145.3" x2="1903.0" y2="145.3" stroke="#000" stroke-width="2.4" />
<text x="1923.0" y="154.3" font-size="25.2" fill="#203864" stroke="#203864" stroke-width="0.4">80</text>
<text x="1923.0" y="55.9" font-size="25.2" fill="#203864" stroke="#203864" stroke-width="0.4">100</text>
<line x1="1511.4" y1="440.5" x2="1511.4" y2="452.5" stroke="#000" stroke-width="2.4" />
<line x1="1668.7" y1="440.5" x2="1668.7" y2="452.5" stroke="#000" stroke-width="2.4" />
<line x1="1825.6" y1="440.5" x2="1825.6" y2="452.5" stroke="#000" stroke-width="2.4" />
<text x="1511.0" y="493.3" font-size="26" text-anchor="middle" textLength="91.0" lengthAdjust="spacingAndGlyphs" stroke="#000" stroke-width="0.4">Original</text>
<text x="1668.5" y="493.3" font-size="26" text-anchor="middle" textLength="102.0" lengthAdjust="spacingAndGlyphs" stroke="#000" stroke-width="0.4">Fatigued</text>
<text x="1825.0" y="493.3" font-size="26" text-anchor="middle" textLength="129.0" lengthAdjust="spacingAndGlyphs" stroke="#000" stroke-width="0.4">Recovered</text>
<text x="1359.0" y="244.0" font-size="26" text-anchor="middle" fill="#C00000" textLength="353.0" lengthAdjust="spacingAndGlyphs" transform="rotate(-90 1359.0 244.0)" stroke="#C00000" stroke-width="0.4">Ultimate tensile strength (MPa)</text>
<text x="1981.0" y="243.0" font-size="27" text-anchor="middle" fill="#203864" transform="rotate(90 1981.0 243.0)" stroke="#203864" stroke-width="0.4">Toughness (MJ/m<tspan dy="-11" font-size="17.5">3</tspan><tspan dy="11">)</tspan></text>
<path d="M1486 181V79.2H1800V210" fill="none" stroke="#000" stroke-width="2.4"/>
<path d="M1486 120H1642.3V217.5" fill="none" stroke="#000" stroke-width="2.4"/>
<text x="1629.1" y="75.1" font-size="20.5" font-weight="bold" textLength="15.5" lengthAdjust="spacing" style="font-family:'DejaVu Sans',sans-serif">∗</text>
<text x="1652.5" y="73.0" font-size="23.6" stroke="#000" stroke-width="0.4"><tspan font-style="italic">p</tspan> = 0.013</text>
<text x="1491.4" y="116.4" font-size="20.5" font-weight="bold" textLength="62.0" lengthAdjust="spacing" style="font-family:'DejaVu Sans',sans-serif">∗∗∗∗</text>
<text x="1564.0" y="114.3" font-size="23.6" stroke="#000" stroke-width="0.4"><tspan font-style="italic">p</tspan> = 3.16×10<tspan dy="-10" font-size="16.5">-15</tspan></text>
<text x="1337.0" y="38.5" font-size="44" font-weight="bold">d</text>
<rect x="1441.8" y="685.0" width="26.8" height="259.4" fill="#C00000" stroke="#000" stroke-width="1" />
<rect x="1468.6" y="822.5" width="26.8" height="121.9" fill="#203864" stroke="#000" stroke-width="1" />
<rect x="1522.0" y="711.9" width="26.8" height="232.5" fill="#C00000" stroke="#000" stroke-width="1" />
<rect x="1548.8" y="822.5" width="26.8" height="121.9" fill="#203864" stroke="#000" stroke-width="1" />
<rect x="1602.3" y="786.7" width="26.8" height="157.7" fill="#C00000" stroke="#000" stroke-width="1" />
<rect x="1629.1" y="863.7" width="26.8" height="80.7" fill="#203864" stroke="#000" stroke-width="1" />
<rect x="1682.5" y="796.0" width="26.8" height="148.4" fill="#C00000" stroke="#000" stroke-width="1" />
<rect x="1709.3" y="852.8" width="26.8" height="91.6" fill="#203864" stroke="#000" stroke-width="1" />
<rect x="1762.8" y="843.5" width="26.8" height="100.9" fill="#C00000" stroke="#000" stroke-width="1" />
<rect x="1789.6" y="904.5" width="26.8" height="39.9" fill="#203864" stroke="#000" stroke-width="1" />
<rect x="1843.0" y="682.2" width="26.8" height="262.2" fill="#C00000" stroke="#000" stroke-width="1" />
<rect x="1869.8" y="790.9" width="26.8" height="153.5" fill="#203864" stroke="#000" stroke-width="1" />
<line x1="1455.2" y1="655.0" x2="1455.2" y2="712.0" stroke="#000" stroke-width="2.2" />
<line x1="1451.2" y1="655.0" x2="1459.2" y2="655.0" stroke="#000" stroke-width="2.2" />
<line x1="1451.2" y1="712.0" x2="1459.2" y2="712.0" stroke="#000" stroke-width="2.2" />
<line x1="1482.0" y1="795.0" x2="1482.0" y2="848.7" stroke="#000" stroke-width="4" />
<line x1="1475.0" y1="795.0" x2="1489.0" y2="795.0" stroke="#000" stroke-width="4" />
<line x1="1475.0" y1="848.7" x2="1489.0" y2="848.7" stroke="#000" stroke-width="4" />
<line x1="1535.4" y1="671.7" x2="1535.4" y2="750.6" stroke="#000" stroke-width="2.2" />
<line x1="1531.4" y1="671.7" x2="1539.4" y2="671.7" stroke="#000" stroke-width="2.2" />
<line x1="1531.4" y1="750.6" x2="1539.4" y2="750.6" stroke="#000" stroke-width="2.2" />
<line x1="1562.2" y1="778.0" x2="1562.2" y2="865.7" stroke="#000" stroke-width="4" />
<line x1="1555.2" y1="778.0" x2="1569.2" y2="778.0" stroke="#000" stroke-width="4" />
<line x1="1555.2" y1="865.7" x2="1569.2" y2="865.7" stroke="#000" stroke-width="4" />
<line x1="1615.7" y1="741.4" x2="1615.7" y2="830.0" stroke="#000" stroke-width="2.2" />
<line x1="1611.7" y1="741.4" x2="1619.7" y2="741.4" stroke="#000" stroke-width="2.2" />
<line x1="1611.7" y1="830.0" x2="1619.7" y2="830.0" stroke="#000" stroke-width="2.2" />
<line x1="1642.5" y1="817.7" x2="1642.5" y2="908.0" stroke="#000" stroke-width="4" />
<line x1="1635.5" y1="817.7" x2="1649.5" y2="817.7" stroke="#000" stroke-width="4" />
<line x1="1635.5" y1="908.0" x2="1649.5" y2="908.0" stroke="#000" stroke-width="4" />
<line x1="1695.9" y1="771.3" x2="1695.9" y2="825.5" stroke="#000" stroke-width="2.2" />
<line x1="1691.9" y1="771.3" x2="1699.9" y2="771.3" stroke="#000" stroke-width="2.2" />
<line x1="1691.9" y1="825.5" x2="1699.9" y2="825.5" stroke="#000" stroke-width="2.2" />
<line x1="1722.8" y1="822.9" x2="1722.8" y2="882.3" stroke="#000" stroke-width="4" />
<line x1="1715.8" y1="822.9" x2="1729.8" y2="822.9" stroke="#000" stroke-width="4" />
<line x1="1715.8" y1="882.3" x2="1729.8" y2="882.3" stroke="#000" stroke-width="4" />
<line x1="1776.2" y1="820.0" x2="1776.2" y2="869.0" stroke="#000" stroke-width="2.2" />
<line x1="1772.2" y1="820.0" x2="1780.2" y2="820.0" stroke="#000" stroke-width="2.2" />
<line x1="1772.2" y1="869.0" x2="1780.2" y2="869.0" stroke="#000" stroke-width="2.2" />
<line x1="1803.0" y1="884.8" x2="1803.0" y2="924.6" stroke="#000" stroke-width="4" />
<line x1="1796.0" y1="884.8" x2="1810.0" y2="884.8" stroke="#000" stroke-width="4" />
<line x1="1796.0" y1="924.6" x2="1810.0" y2="924.6" stroke="#000" stroke-width="4" />
<line x1="1856.4" y1="654.0" x2="1856.4" y2="709.0" stroke="#000" stroke-width="2.2" />
<line x1="1852.4" y1="654.0" x2="1860.4" y2="654.0" stroke="#000" stroke-width="2.2" />
<line x1="1852.4" y1="709.0" x2="1860.4" y2="709.0" stroke="#000" stroke-width="2.2" />
<line x1="1883.2" y1="741.0" x2="1883.2" y2="840.0" stroke="#000" stroke-width="4" />
<line x1="1876.2" y1="741.0" x2="1890.2" y2="741.0" stroke="#000" stroke-width="4" />
<line x1="1876.2" y1="840.0" x2="1890.2" y2="840.0" stroke="#000" stroke-width="4" />
<path d="M1451.5 618.9h7.4M1455.2 615.2v7.4M1451.5 653.6h7.4M1455.2 649.9v7.4M1451.5 662.7h7.4M1455.2 659.0v7.4M1457.0 662.8h7.4M1460.7 659.1v7.4M1446.0 664.9h7.4M1449.7 661.2v7.4M1462.5 665.2h7.4M1466.2 661.5v7.4M1451.5 671.0h7.4M1455.2 667.3v7.4M1457.0 671.1h7.4M1460.7 667.4v7.4M1446.0 671.3h7.4M1449.7 667.6v7.4M1451.5 675.8h7.4M1455.2 672.1v7.4M1457.0 675.8h7.4M1460.7 672.1v7.4M1446.0 677.9h7.4M1449.7 674.2v7.4M1462.5 680.1h7.4M1466.2 676.4v7.4M1451.5 681.3h7.4M1455.2 677.6v7.4M1457.0 681.4h7.4M1460.7 677.7v7.4M1446.0 682.8h7.4M1449.7 679.1v7.4M1440.5 683.8h7.4M1444.2 680.1v7.4M1451.5 685.8h7.4M1455.2 682.1v7.4M1457.0 686.8h7.4M1460.7 683.1v7.4M1462.5 687.1h7.4M1466.2 683.4v7.4M1446.0 687.2h7.4M1449.7 683.5v7.4M1442.1 687.9h7.4M1445.8 684.2v7.4M1457.6 689.4h7.4M1461.3 685.7v7.4M1451.5 691.6h7.4M1455.2 687.9v7.4M1442.4 691.9h7.4M1446.1 688.2v7.4M1440.8 693.0h7.4M1444.5 689.3v7.4M1451.5 696.6h7.4M1455.2 692.9v7.4M1451.5 702.2h7.4M1455.2 698.5v7.4M1457.0 702.3h7.4M1460.7 698.6v7.4M1451.5 709.7h7.4M1455.2 706.0v7.4M1457.0 711.3h7.4M1460.7 707.6v7.4M1446.0 711.5h7.4M1449.7 707.8v7.4M1462.5 713.0h7.4M1466.2 709.3v7.4M1440.5 713.7h7.4M1444.2 710.0v7.4M1451.5 715.6h7.4M1455.2 711.9v7.4M1457.0 716.8h7.4M1460.7 713.1v7.4M1451.5 723.4h7.4M1455.2 719.7v7.4M1478.3 767.2h7.4M1482.0 763.5v7.4M1478.3 790.4h7.4M1482.0 786.7v7.4M1478.3 801.8h7.4M1482.0 798.1v7.4M1478.3 812.5h7.4M1482.0 808.8v7.4M1483.8 812.6h7.4M1487.5 808.9v7.4M1472.8 813.5h7.4M1476.5 809.8v7.4M1478.3 817.5h7.4M1482.0 813.8v7.4M1483.8 819.5h7.4M1487.5 815.8v7.4M1472.8 820.3h7.4M1476.5 816.6v7.4M1489.3 821.6h7.4M1493.0 817.9v7.4M1478.3 822.8h7.4M1482.0 819.1v7.4M1483.8 824.3h7.4M1487.5 820.6v7.4M1472.8 824.7h7.4M1476.5 821.0v7.4M1489.3 826.1h7.4M1493.0 822.4v7.4M1478.3 830.1h7.4M1482.0 826.4v7.4M1483.8 830.4h7.4M1487.5 826.7v7.4M1472.8 831.1h7.4M1476.5 827.4v7.4M1478.3 835.6h7.4M1482.0 831.9v7.4M1483.8 836.0h7.4M1487.5 832.3v7.4M1472.8 836.5h7.4M1476.5 832.8v7.4M1489.3 837.1h7.4M1493.0 833.4v7.4M1467.3 837.4h7.4M1471.0 833.7v7.4M1487.7 837.9h7.4M1491.4 834.2v7.4M1470.1 838.1h7.4M1473.8 834.4v7.4M1479.6 839.3h7.4M1483.3 835.6v7.4M1473.5 839.7h7.4M1477.2 836.0v7.4M1483.8 840.9h7.4M1487.5 837.2v7.4M1473.2 842.0h7.4M1476.9 838.3v7.4M1489.3 842.8h7.4M1493.0 839.1v7.4M1467.3 842.9h7.4M1471.0 839.2v7.4M1468.3 843.6h7.4M1472.0 839.9v7.4M1478.3 846.5h7.4M1482.0 842.8v7.4M1483.8 847.2h7.4M1487.5 843.5v7.4M1478.3 858.3h7.4M1482.0 854.6v7.4M1478.3 863.9h7.4M1482.0 860.2v7.4M1478.3 882.5h7.4M1482.0 878.8v7.4M1478.3 899.4h7.4M1482.0 895.7v7.4M1531.7 616.2h7.4M1535.4 612.5v7.4M1531.7 664.7h7.4M1535.4 661.0v7.4M1537.2 665.0h7.4M1540.9 661.3v7.4M1531.7 669.6h7.4M1535.4 665.9v7.4M1531.7 678.9h7.4M1535.4 675.2v7.4M1537.2 681.8h7.4M1540.9 678.1v7.4M1531.7 684.6h7.4M1535.4 680.9v7.4M1531.7 691.6h7.4M1535.4 687.9v7.4M1537.2 695.1h7.4M1540.9 691.4v7.4M1531.7 701.5h7.4M1535.4 697.8v7.4M1537.2 702.0h7.4M1540.9 698.3v7.4M1531.7 706.8h7.4M1535.4 703.1v7.4M1537.2 708.2h7.4M1540.9 704.5v7.4M1526.2 709.7h7.4M1529.9 706.0v7.4M1531.7 711.6h7.4M1535.4 707.9v7.4M1531.7 716.6h7.4M1535.4 712.9v7.4M1537.2 717.3h7.4M1540.9 713.6v7.4M1526.2 718.5h7.4M1529.9 714.8v7.4M1531.7 723.4h7.4M1535.4 719.7v7.4M1537.2 723.7h7.4M1540.9 720.0v7.4M1526.2 723.7h7.4M1529.9 720.0v7.4M1542.7 724.8h7.4M1546.4 721.1v7.4M1531.7 728.4h7.4M1535.4 724.7v7.4M1537.2 732.8h7.4M1540.9 729.1v7.4M1526.2 732.8h7.4M1529.9 729.1v7.4M1531.7 735.4h7.4M1535.4 731.7v7.4M1542.7 735.9h7.4M1546.4 732.2v7.4M1520.7 736.1h7.4M1524.4 732.4v7.4M1538.4 736.5h7.4M1542.1 732.8v7.4M1540.1 736.7h7.4M1543.8 733.0v7.4M1526.2 739.6h7.4M1529.9 735.9v7.4M1531.7 740.2h7.4M1535.4 736.5v7.4M1537.2 744.4h7.4M1540.9 740.7v7.4M1531.7 749.0h7.4M1535.4 745.3v7.4M1537.2 749.4h7.4M1540.9 745.7v7.4M1526.2 750.1h7.4M1529.9 746.4v7.4M1531.7 759.5h7.4M1535.4 755.8v7.4M1558.5 747.5h7.4M1562.2 743.8v7.4M1558.5 753.7h7.4M1562.2 750.0v7.4M1558.5 758.8h7.4M1562.2 755.1v7.4M1564.0 759.4h7.4M1567.8 755.7v7.4M1553.0 760.0h7.4M1556.8 756.3v7.4M1558.5 773.2h7.4M1562.2 769.5v7.4M1558.5 781.0h7.4M1562.2 777.3v7.4M1564.0 784.9h7.4M1567.8 781.2v7.4M1558.5 792.5h7.4M1562.2 788.8v7.4M1564.0 794.2h7.4M1567.8 790.5v7.4M1553.0 796.2h7.4M1556.8 792.5v7.4M1558.5 797.3h7.4M1562.2 793.6v7.4M1558.5 806.9h7.4M1562.2 803.2v7.4M1558.5 811.9h7.4M1562.2 808.2v7.4M1564.0 812.4h7.4M1567.8 808.7v7.4M1553.0 813.4h7.4M1556.8 809.7v7.4M1558.5 822.5h7.4M1562.2 818.8v7.4M1564.0 822.6h7.4M1567.8 818.9v7.4M1558.5 835.3h7.4M1562.2 831.6v7.4M1564.0 835.7h7.4M1567.8 832.0v7.4M1558.5 840.2h7.4M1562.2 836.5v7.4M1558.5 847.4h7.4M1562.2 843.7v7.4M1564.0 848.3h7.4M1567.8 844.6v7.4M1558.5 855.1h7.4M1562.2 851.4v7.4M1564.0 855.6h7.4M1567.8 851.9v7.4M1553.0 857.0h7.4M1556.8 853.3v7.4M1569.5 857.9h7.4M1573.2 854.2v7.4M1558.5 859.7h7.4M1562.2 856.0v7.4M1564.0 861.0h7.4M1567.8 857.3v7.4M1553.0 861.6h7.4M1556.8 857.9v7.4M1558.5 872.5h7.4M1562.2 868.8v7.4M1564.0 875.8h7.4M1567.8 872.1v7.4M1558.5 878.1h7.4M1562.2 874.4v7.4M1564.0 881.4h7.4M1567.8 877.7v7.4M1558.5 895.4h7.4M1562.2 891.7v7.4M1558.5 902.2h7.4M1562.2 898.5v7.4M1612.0 675.3h7.4M1615.7 671.6v7.4M1612.0 681.9h7.4M1615.7 678.2v7.4M1612.0 708.1h7.4M1615.7 704.4v7.4M1612.0 741.7h7.4M1615.7 738.0v7.4M1617.5 743.1h7.4M1621.2 739.4v7.4M1612.0 752.1h7.4M1615.7 748.4v7.4M1617.5 755.2h7.4M1621.2 751.5v7.4M1612.0 759.9h7.4M1615.7 756.2v7.4M1617.5 763.2h7.4M1621.2 759.5v7.4M1612.0 766.3h7.4M1615.7 762.6v7.4M1617.5 770.4h7.4M1621.2 766.7v7.4M1612.0 771.4h7.4M1615.7 767.7v7.4M1606.5 774.2h7.4M1610.2 770.5v7.4M1617.5 775.3h7.4M1621.2 771.6v7.4M1612.0 776.5h7.4M1615.7 772.8v7.4M1617.5 780.6h7.4M1621.2 776.9v7.4M1612.0 781.4h7.4M1615.7 777.7v7.4M1606.5 783.1h7.4M1610.2 779.4v7.4M1612.0 786.3h7.4M1615.7 782.6v7.4M1617.5 788.3h7.4M1621.2 784.6v7.4M1606.5 790.7h7.4M1610.2 787.0v7.4M1612.0 791.7h7.4M1615.7 788.0v7.4M1617.5 793.8h7.4M1621.2 790.1v7.4M1612.0 796.6h7.4M1615.7 792.9v7.4M1606.5 796.7h7.4M1610.2 793.0v7.4M1623.0 798.1h7.4M1626.7 794.4v7.4M1617.5 798.5h7.4M1621.2 794.8v7.4M1601.0 798.6h7.4M1604.7 794.9v7.4M1612.0 802.2h7.4M1615.7 798.5v7.4M1617.5 803.8h7.4M1621.2 800.1v7.4M1612.0 807.9h7.4M1615.7 804.2v7.4M1617.5 809.5h7.4M1621.2 805.8v7.4M1612.0 812.8h7.4M1615.7 809.1v7.4M1606.5 813.8h7.4M1610.2 810.1v7.4M1617.5 814.0h7.4M1621.2 810.3v7.4M1612.0 824.2h7.4M1615.7 820.5v7.4M1612.0 832.9h7.4M1615.7 829.2v7.4M1617.5 833.8h7.4M1621.2 830.1v7.4M1606.5 836.6h7.4M1610.2 832.9v7.4M1638.8 741.9h7.4M1642.5 738.2v7.4M1638.8 758.8h7.4M1642.5 755.1v7.4M1638.8 792.5h7.4M1642.5 788.8v7.4M1638.8 810.6h7.4M1642.5 806.9v7.4M1638.8 818.4h7.4M1642.5 814.7v7.4M1638.8 824.4h7.4M1642.5 820.7v7.4M1644.3 824.8h7.4M1648.0 821.1v7.4M1638.8 838.1h7.4M1642.5 834.4v7.4M1638.8 844.4h7.4M1642.5 840.7v7.4M1644.3 845.7h7.4M1648.0 842.0v7.4M1633.3 846.5h7.4M1637.0 842.8v7.4M1649.8 848.2h7.4M1653.5 844.5v7.4M1638.8 856.7h7.4M1642.5 853.0v7.4M1644.3 858.7h7.4M1648.0 855.0v7.4M1633.3 860.4h7.4M1637.0 856.7v7.4M1638.8 861.3h7.4M1642.5 857.6v7.4M1644.3 863.6h7.4M1648.0 859.9v7.4M1633.3 865.3h7.4M1637.0 861.6v7.4M1638.8 869.8h7.4M1642.5 866.1v7.4M1644.3 870.7h7.4M1648.0 867.0v7.4M1638.8 875.1h7.4M1642.5 871.4v7.4M1644.3 877.9h7.4M1648.0 874.2v7.4M1638.8 881.3h7.4M1642.5 877.6v7.4M1633.3 881.7h7.4M1637.0 878.0v7.4M1638.8 886.5h7.4M1642.5 882.8v7.4M1644.3 888.8h7.4M1648.0 885.1v7.4M1633.3 889.8h7.4M1637.0 886.1v7.4M1649.8 890.6h7.4M1653.5 886.9v7.4M1638.8 898.2h7.4M1642.5 894.5v7.4M1644.3 901.6h7.4M1648.0 897.9v7.4M1638.8 903.2h7.4M1642.5 899.5v7.4M1633.3 904.0h7.4M1637.0 900.3v7.4M1649.8 905.4h7.4M1653.5 901.7v7.4M1644.3 907.2h7.4M1648.0 903.5v7.4M1638.8 908.5h7.4M1642.5 904.8v7.4M1638.8 922.3h7.4M1642.5 918.6v7.4M1644.3 923.0h7.4M1648.0 919.3v7.4M1638.8 930.3h7.4M1642.5 926.6v7.4M1692.2 744.9h7.4M1695.9 741.2v7.4M1697.7 747.5h7.4M1701.4 743.8v7.4M1692.2 764.0h7.4M1695.9 760.3v7.4M1697.7 767.7h7.4M1701.4 764.0v7.4M1692.2 772.9h7.4M1695.9 769.2v7.4M1697.7 774.6h7.4M1701.4 770.9v7.4M1686.7 776.9h7.4M1690.4 773.2v7.4M1692.2 780.1h7.4M1695.9 776.4v7.4M1697.7 783.6h7.4M1701.4 779.9v7.4M1692.2 787.4h7.4M1695.9 783.7v7.4M1697.7 788.3h7.4M1701.4 784.6v7.4M1686.7 790.2h7.4M1690.4 786.5v7.4M1703.2 791.0h7.4M1706.9 787.3v7.4M1692.2 792.1h7.4M1695.9 788.4v7.4M1697.7 793.4h7.4M1701.4 789.7v7.4M1681.2 793.8h7.4M1684.9 790.1v7.4M1686.7 794.6h7.4M1690.4 790.9v7.4M1703.2 796.1h7.4M1706.9 792.4v7.4M1689.8 796.4h7.4M1693.5 792.7v7.4M1695.4 797.5h7.4M1699.1 793.8v7.4M1698.0 798.0h7.4M1701.7 794.3v7.4M1681.2 799.4h7.4M1684.9 795.7v7.4M1703.2 800.6h7.4M1706.9 796.9v7.4M1692.2 804.5h7.4M1695.9 800.8v7.4M1692.2 815.7h7.4M1695.9 812.0v7.4M1697.7 816.2h7.4M1701.4 812.5v7.4M1692.2 820.8h7.4M1695.9 817.1v7.4M1697.7 824.4h7.4M1701.4 820.7v7.4M1686.7 824.7h7.4M1690.4 821.0v7.4M1692.2 829.0h7.4M1695.9 825.3v7.4M1697.7 829.6h7.4M1701.4 825.9v7.4M1686.7 830.5h7.4M1690.4 826.8v7.4M1703.2 832.0h7.4M1706.9 828.3v7.4M1681.2 833.2h7.4M1684.9 829.5v7.4M1692.2 839.5h7.4M1695.9 835.8v7.4M1697.7 841.8h7.4M1701.4 838.1v7.4M1692.2 846.7h7.4M1695.9 843.0v7.4M1697.7 847.7h7.4M1701.4 844.0v7.4M1719.0 803.8h7.4M1722.8 800.1v7.4M1719.0 813.5h7.4M1722.8 809.8v7.4M1724.5 817.1h7.4M1728.2 813.4v7.4M1719.0 817.9h7.4M1722.8 814.2v7.4M1713.5 818.9h7.4M1717.2 815.2v7.4M1724.5 821.5h7.4M1728.2 817.8v7.4M1719.0 828.5h7.4M1722.8 824.8v7.4M1724.5 829.5h7.4M1728.2 825.8v7.4M1713.5 830.4h7.4M1717.2 826.7v7.4M1730.0 831.1h7.4M1733.8 827.4v7.4M1719.0 839.1h7.4M1722.8 835.4v7.4M1724.5 839.9h7.4M1728.2 836.2v7.4M1713.5 840.2h7.4M1717.2 836.5v7.4M1730.0 841.2h7.4M1733.8 837.5v7.4M1719.0 848.9h7.4M1722.8 845.2v7.4M1724.5 852.7h7.4M1728.2 849.0v7.4M1713.5 853.1h7.4M1717.2 849.4v7.4M1719.0 856.9h7.4M1722.8 853.2v7.4M1724.5 858.4h7.4M1728.2 854.7v7.4M1713.5 858.5h7.4M1717.2 854.8v7.4M1719.0 863.5h7.4M1722.8 859.8v7.4M1724.5 863.6h7.4M1728.2 859.9v7.4M1713.5 864.7h7.4M1717.2 861.0v7.4M1730.0 864.7h7.4M1733.8 861.0v7.4M1708.0 866.5h7.4M1711.8 862.8v7.4M1711.1 867.1h7.4M1714.8 863.4v7.4M1718.1 867.6h7.4M1721.8 863.9v7.4M1719.0 872.5h7.4M1722.8 868.8v7.4M1719.0 877.5h7.4M1722.8 873.8v7.4M1719.0 884.5h7.4M1722.8 880.8v7.4M1724.5 887.1h7.4M1728.2 883.4v7.4M1719.0 894.6h7.4M1722.8 890.9v7.4M1724.5 896.0h7.4M1728.2 892.3v7.4M1719.0 903.5h7.4M1722.8 899.8v7.4M1724.5 904.8h7.4M1728.2 901.1v7.4M1719.0 927.5h7.4M1722.8 923.8v7.4M1772.5 800.0h7.4M1776.2 796.3v7.4M1772.5 807.8h7.4M1776.2 804.1v7.4M1778.0 811.2h7.4M1781.7 807.5v7.4M1772.5 812.7h7.4M1776.2 809.0v7.4M1767.0 814.4h7.4M1770.7 810.7v7.4M1783.5 814.5h7.4M1787.2 810.8v7.4M1772.5 822.5h7.4M1776.2 818.8v7.4M1778.0 826.0h7.4M1781.7 822.3v7.4M1772.5 827.9h7.4M1776.2 824.2v7.4M1767.0 829.3h7.4M1770.7 825.6v7.4M1772.5 833.4h7.4M1776.2 829.7v7.4M1778.0 833.4h7.4M1781.7 829.7v7.4M1767.0 836.8h7.4M1770.7 833.1v7.4M1772.5 838.0h7.4M1776.2 834.3v7.4M1778.0 838.6h7.4M1781.7 834.9v7.4M1783.5 839.4h7.4M1787.2 835.7v7.4M1761.5 840.9h7.4M1765.2 837.2v7.4M1771.0 841.0h7.4M1774.7 837.3v7.4M1779.4 842.5h7.4M1783.1 838.8v7.4M1768.1 844.9h7.4M1771.8 841.2v7.4M1763.2 845.0h7.4M1766.9 841.3v7.4M1781.5 845.1h7.4M1785.2 841.4v7.4M1776.8 846.6h7.4M1780.5 842.9v7.4M1777.4 846.8h7.4M1781.1 843.1v7.4M1767.7 846.9h7.4M1771.4 843.2v7.4M1766.3 849.4h7.4M1770.0 845.7v7.4M1783.5 850.0h7.4M1787.2 846.3v7.4M1772.5 851.3h7.4M1776.2 847.6v7.4M1778.0 851.5h7.4M1781.7 847.8v7.4M1772.5 858.4h7.4M1776.2 854.7v7.4M1772.5 863.8h7.4M1776.2 860.1v7.4M1778.0 865.4h7.4M1781.7 861.7v7.4M1767.0 867.6h7.4M1770.7 863.9v7.4M1772.5 877.1h7.4M1776.2 873.4v7.4M1778.0 878.8h7.4M1781.7 875.1v7.4M1772.5 882.9h7.4M1776.2 879.2v7.4M1772.5 887.8h7.4M1776.2 884.1v7.4M1799.3 874.2h7.4M1803.0 870.5v7.4M1804.8 875.1h7.4M1808.5 871.4v7.4M1799.3 879.4h7.4M1803.0 875.7v7.4M1799.3 886.4h7.4M1803.0 882.7v7.4M1804.8 887.2h7.4M1808.5 883.5v7.4M1793.8 887.9h7.4M1797.5 884.2v7.4M1810.3 890.5h7.4M1814.0 886.8v7.4M1799.3 892.5h7.4M1803.0 888.8v7.4M1804.8 893.8h7.4M1808.5 890.1v7.4M1793.8 895.5h7.4M1797.5 891.8v7.4M1799.3 898.1h7.4M1803.0 894.4v7.4M1804.8 899.9h7.4M1808.5 896.2v7.4M1793.8 900.3h7.4M1797.5 896.6v7.4M1799.3 903.0h7.4M1803.0 899.3v7.4M1804.8 904.6h7.4M1808.5 900.9v7.4M1793.8 906.9h7.4M1797.5 903.2v7.4M1810.3 907.1h7.4M1814.0 903.4v7.4M1799.3 909.5h7.4M1803.0 905.8v7.4M1804.8 910.2h7.4M1808.5 906.5v7.4M1793.8 911.3h7.4M1797.5 907.6v7.4M1810.3 911.7h7.4M1814.0 908.0v7.4M1788.3 912.1h7.4M1792.0 908.4v7.4M1803.9 913.5h7.4M1807.6 909.8v7.4M1797.6 914.3h7.4M1801.3 910.6v7.4M1808.4 915.1h7.4M1812.1 911.4v7.4M1804.6 915.9h7.4M1808.3 912.2v7.4M1799.3 922.9h7.4M1803.0 919.2v7.4M1804.8 923.3h7.4M1808.5 919.6v7.4M1793.8 926.8h7.4M1797.5 923.1v7.4M1799.3 931.1h7.4M1803.0 927.4v7.4M1804.8 934.6h7.4M1808.5 930.9v7.4M1799.3 938.5h7.4M1803.0 934.8v7.4M1804.8 939.3h7.4M1808.5 935.6v7.4M1793.8 942.8h7.4M1797.5 939.1v7.4M1852.7 616.2h7.4M1856.4 612.5v7.4M1858.2 618.9h7.4M1861.9 615.2v7.4M1852.7 649.1h7.4M1856.4 645.4v7.4M1852.7 661.3h7.4M1856.4 657.6v7.4M1858.2 662.4h7.4M1861.9 658.7v7.4M1852.7 669.4h7.4M1856.4 665.7v7.4M1858.2 671.2h7.4M1861.9 667.5v7.4M1847.2 671.8h7.4M1850.9 668.1v7.4M1852.7 674.1h7.4M1856.4 670.4v7.4M1863.7 674.8h7.4M1867.4 671.1v7.4M1858.2 676.0h7.4M1861.9 672.3v7.4M1847.2 677.3h7.4M1850.9 673.6v7.4M1841.7 677.4h7.4M1845.4 673.7v7.4M1858.7 677.7h7.4M1862.4 674.0v7.4M1852.7 679.7h7.4M1856.4 676.0v7.4M1863.7 681.3h7.4M1867.4 677.6v7.4M1855.8 681.4h7.4M1859.5 677.7v7.4M1847.2 682.3h7.4M1850.9 678.6v7.4M1841.7 682.4h7.4M1845.4 678.7v7.4M1854.3 683.3h7.4M1858.0 679.6v7.4M1841.8 683.6h7.4M1845.5 679.9v7.4M1863.7 685.9h7.4M1867.4 682.2v7.4M1847.2 687.0h7.4M1850.9 683.3v7.4M1849.5 687.6h7.4M1853.2 683.9v7.4M1858.2 688.2h7.4M1861.9 684.5v7.4M1841.7 690.3h7.4M1845.4 686.6v7.4M1863.7 690.9h7.4M1867.4 687.2v7.4M1852.7 693.2h7.4M1856.4 689.5v7.4M1858.2 696.0h7.4M1861.9 692.3v7.4M1852.7 699.0h7.4M1856.4 695.3v7.4M1858.2 700.7h7.4M1861.9 697.0v7.4M1847.2 702.6h7.4M1850.9 698.9v7.4M1852.7 706.2h7.4M1856.4 702.5v7.4M1852.7 711.4h7.4M1856.4 707.7v7.4M1858.2 712.1h7.4M1861.9 708.4v7.4M1847.2 713.6h7.4M1850.9 709.9v7.4M1863.7 714.7h7.4M1867.4 711.0v7.4M1852.7 721.4h7.4M1856.4 717.7v7.4M1879.5 694.1h7.4M1883.2 690.4v7.4M1879.5 719.8h7.4M1883.2 716.1v7.4M1879.5 739.1h7.4M1883.2 735.4v7.4M1885.0 741.1h7.4M1888.8 737.4v7.4M1879.5 749.0h7.4M1883.2 745.3v7.4M1885.0 750.8h7.4M1888.8 747.1v7.4M1879.5 755.7h7.4M1883.2 752.0v7.4M1885.0 759.4h7.4M1888.8 755.7v7.4M1879.5 766.4h7.4M1883.2 762.7v7.4M1879.5 777.4h7.4M1883.2 773.7v7.4M1885.0 779.6h7.4M1888.8 775.9v7.4M1874.0 779.7h7.4M1877.8 776.0v7.4M1879.5 782.1h7.4M1883.2 778.4v7.4M1879.5 791.0h7.4M1883.2 787.3v7.4M1885.0 793.7h7.4M1888.8 790.0v7.4M1879.5 799.1h7.4M1883.2 795.4v7.4M1885.0 799.3h7.4M1888.8 795.6v7.4M1874.0 799.3h7.4M1877.8 795.6v7.4M1890.5 800.8h7.4M1894.2 797.1v7.4M1868.5 801.2h7.4M1872.2 797.5v7.4M1877.4 801.6h7.4M1881.1 797.9v7.4M1881.6 803.0h7.4M1885.3 799.3v7.4M1870.8 804.0h7.4M1874.5 800.3v7.4M1872.0 804.1h7.4M1875.7 800.4v7.4M1890.5 805.6h7.4M1894.2 801.9v7.4M1879.5 811.6h7.4M1883.2 807.9v7.4M1885.0 811.7h7.4M1888.8 808.0v7.4M1874.0 813.7h7.4M1877.8 810.0v7.4M1879.5 817.3h7.4M1883.2 813.6v7.4M1885.0 819.7h7.4M1888.8 816.0v7.4M1879.5 827.0h7.4M1883.2 823.3v7.4M1885.0 829.7h7.4M1888.8 826.0v7.4M1879.5 832.3h7.4M1883.2 828.6v7.4M1885.0 834.2h7.4M1888.8 830.5v7.4M1879.5 842.9h7.4M1883.2 839.2v7.4M1879.5 882.5h7.4M1883.2 878.8v7.4" stroke="#006400" stroke-width="2.5" fill="none"/>
<path d="M1423.0 550.6H1916.0V944.4H1423.0Z" fill="none" stroke="#000" stroke-width="2.6"/>
<text x="1416.5" y="953.4" font-size="25.2" text-anchor="end" fill="#C00000" stroke="#C00000" stroke-width="0.4">100</text>
<line x1="1423.0" y1="813.1" x2="1435.0" y2="813.1" stroke="#000" stroke-width="2.4" />
<text x="1416.5" y="822.1" font-size="25.2" text-anchor="end" fill="#C00000" stroke="#C00000" stroke-width="0.4">200</text>
<line x1="1423.0" y1="681.9" x2="1435.0" y2="681.9" stroke="#000" stroke-width="2.4" />
<text x="1416.5" y="690.9" font-size="25.2" text-anchor="end" fill="#C00000" stroke="#C00000" stroke-width="0.4">300</text>
<text x="1416.5" y="559.6" font-size="25.2" text-anchor="end" fill="#C00000" stroke="#C00000" stroke-width="0.4">400</text>
<line x1="1916.0" y1="888.1" x2="1904.0" y2="888.1" stroke="#000" stroke-width="2.4" />
<text x="1924.0" y="897.1" font-size="25.2" fill="#203864" stroke="#203864" stroke-width="0.4">40</text>
<line x1="1916.0" y1="775.6" x2="1904.0" y2="775.6" stroke="#000" stroke-width="2.4" />
<text x="1924.0" y="784.6" font-size="25.2" fill="#203864" stroke="#203864" stroke-width="0.4">80</text>
<line x1="1916.0" y1="663.1" x2="1904.0" y2="663.1" stroke="#000" stroke-width="2.4" />
<text x="1924.0" y="672.1" font-size="25.2" fill="#203864" stroke="#203864" stroke-width="0.4">120</text>
<text x="1924.0" y="559.6" font-size="25.2" fill="#203864" stroke="#203864" stroke-width="0.4">160</text>
<line x1="1468.6" y1="944.4" x2="1468.6" y2="955.4" stroke="#000" stroke-width="2.4" />
<line x1="1548.8" y1="944.4" x2="1548.8" y2="955.4" stroke="#000" stroke-width="2.4" />
<line x1="1629.1" y1="944.4" x2="1629.1" y2="955.4" stroke="#000" stroke-width="2.4" />
<line x1="1709.3" y1="944.4" x2="1709.3" y2="955.4" stroke="#000" stroke-width="2.4" />
<line x1="1789.6" y1="944.4" x2="1789.6" y2="955.4" stroke="#000" stroke-width="2.4" />
<line x1="1869.8" y1="944.4" x2="1869.8" y2="955.4" stroke="#000" stroke-width="2.4" />
<text x="1468.0" y="996.5" font-size="26" text-anchor="middle" textLength="91.0" lengthAdjust="spacingAndGlyphs" stroke="#000" stroke-width="0.4">Original</text>
<text x="1548.8" y="996.5" font-size="26" text-anchor="middle" stroke="#000" stroke-width="0.4">7</text>
<text x="1629.1" y="996.5" font-size="26" text-anchor="middle" stroke="#000" stroke-width="0.4">5</text>
<text x="1709.3" y="996.5" font-size="26" text-anchor="middle" stroke="#000" stroke-width="0.4">3</text>
<text x="1789.6" y="996.5" font-size="26" text-anchor="middle" stroke="#000" stroke-width="0.4">1</text>
<text x="1869.8" y="996.5" font-size="26" text-anchor="middle" stroke="#000" stroke-width="0.4">8</text>
<text x="1359.0" y="748.0" font-size="26" text-anchor="middle" fill="#C00000" textLength="353.0" lengthAdjust="spacingAndGlyphs" transform="rotate(-90 1359.0 748.0)" stroke="#C00000" stroke-width="0.4">Ultimate tensile strength (MPa)</text>
<text x="1981.0" y="747.0" font-size="27" text-anchor="middle" fill="#203864" transform="rotate(90 1981.0 747.0)" stroke="#203864" stroke-width="0.4">Toughness (MJ/m<tspan dy="-11" font-size="17.5">3</tspan><tspan dy="11">)</tspan></text>
<path d="M1453 607.8V580.6H1855.5V607.7" fill="none" stroke="#000" stroke-width="2.4"/>
<path d="M1453 636V614.4H1775V784" fill="none" stroke="#000" stroke-width="2.4"/>
<text x="1626.0" y="571.0" font-size="21" stroke="#000" stroke-width="0.4">ns</text>
<text x="1655.0" y="572.5" font-size="25.0" stroke="#000" stroke-width="0.4"><tspan font-style="italic">p</tspan> = 0.684</text>
<text x="1582.7" y="611.5" font-size="20.5" font-weight="bold" textLength="62.0" lengthAdjust="spacing" style="font-family:'DejaVu Sans',sans-serif">∗∗∗∗</text>
<text x="1655.0" y="609.5" font-size="25.3" stroke="#000" stroke-width="0.4"><tspan font-style="italic">p</tspan> = 1.09×10<tspan dy="-10.5" font-size="17.5">-20</tspan></text>
<text x="1335.5" y="516.0" font-size="44" font-weight="bold">f</text>
</svg></body></html>
